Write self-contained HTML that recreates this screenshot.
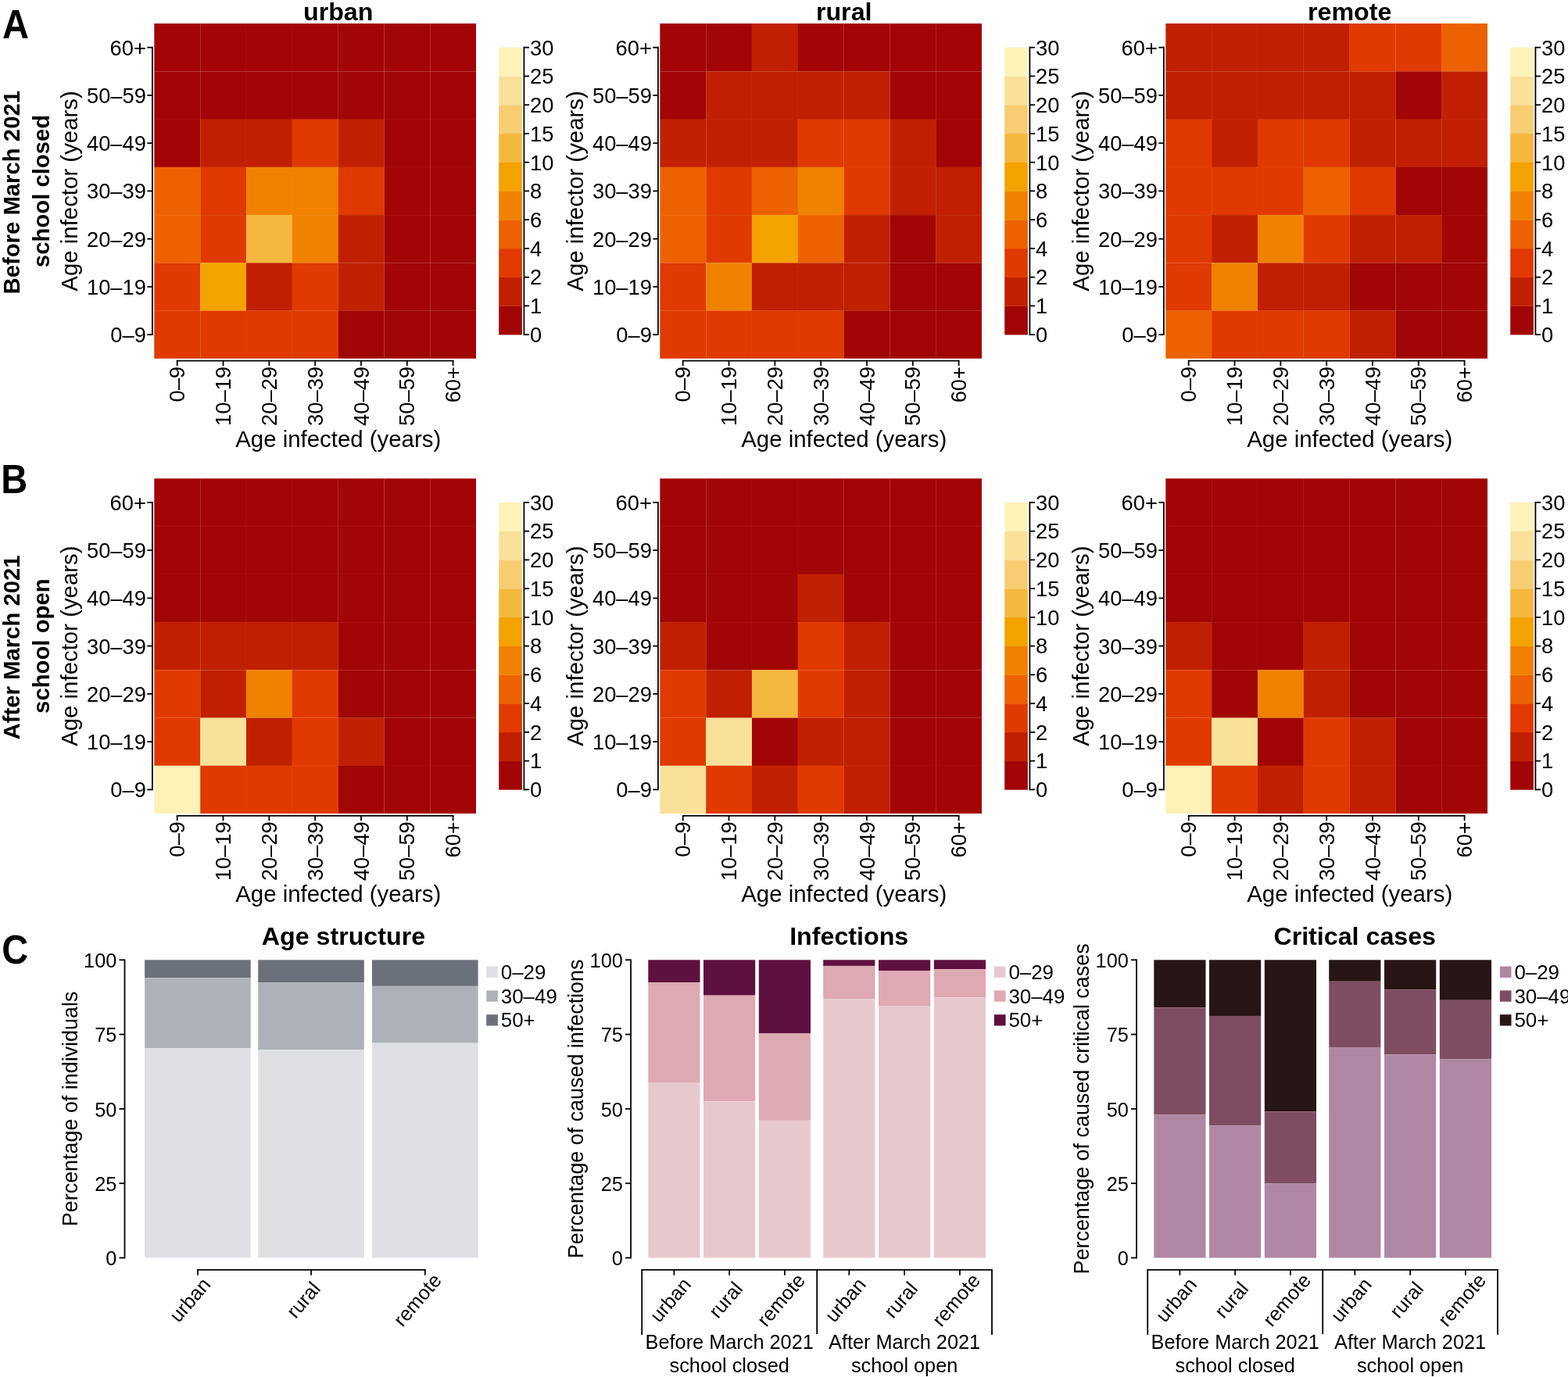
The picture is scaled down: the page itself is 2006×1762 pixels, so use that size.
<!DOCTYPE html><html><head><meta charset="utf-8"><title>Figure</title><style>html,body{margin:0;padding:0;background:#fff;}svg{display:block;}text{font-family:'Liberation Sans', Arial, Helvetica, sans-serif;fill:#000;}</style></head><body>
<svg width="2006" height="1762" viewBox="0 0 2006 1762">
<rect width="2006" height="1762" fill="#fff"/>
<rect x="197.3" y="30.1" width="59.21" height="61.64" fill="#A20505"/>
<rect x="256.11" y="30.1" width="59.21" height="61.64" fill="#A20505"/>
<rect x="314.93" y="30.1" width="59.21" height="61.64" fill="#A20505"/>
<rect x="373.74" y="30.1" width="59.21" height="61.64" fill="#A20505"/>
<rect x="432.56" y="30.1" width="59.21" height="61.64" fill="#A20505"/>
<rect x="491.37" y="30.1" width="59.21" height="61.64" fill="#A20505"/>
<rect x="550.19" y="30.1" width="58.81" height="61.64" fill="#A20505"/>
<rect x="197.3" y="91.34" width="59.21" height="61.64" fill="#A20505"/>
<rect x="256.11" y="91.34" width="59.21" height="61.64" fill="#A20505"/>
<rect x="314.93" y="91.34" width="59.21" height="61.64" fill="#A20505"/>
<rect x="373.74" y="91.34" width="59.21" height="61.64" fill="#A20505"/>
<rect x="432.56" y="91.34" width="59.21" height="61.64" fill="#A20505"/>
<rect x="491.37" y="91.34" width="59.21" height="61.64" fill="#A20505"/>
<rect x="550.19" y="91.34" width="58.81" height="61.64" fill="#A20505"/>
<rect x="197.3" y="152.59" width="59.21" height="61.64" fill="#A20505"/>
<rect x="256.11" y="152.59" width="59.21" height="61.64" fill="#C02000"/>
<rect x="314.93" y="152.59" width="59.21" height="61.64" fill="#C02000"/>
<rect x="373.74" y="152.59" width="59.21" height="61.64" fill="#E03A00"/>
<rect x="432.56" y="152.59" width="59.21" height="61.64" fill="#C02000"/>
<rect x="491.37" y="152.59" width="59.21" height="61.64" fill="#A20505"/>
<rect x="550.19" y="152.59" width="58.81" height="61.64" fill="#A20505"/>
<rect x="197.3" y="213.83" width="59.21" height="61.64" fill="#EC6200"/>
<rect x="256.11" y="213.83" width="59.21" height="61.64" fill="#E03A00"/>
<rect x="314.93" y="213.83" width="59.21" height="61.64" fill="#F08200"/>
<rect x="373.74" y="213.83" width="59.21" height="61.64" fill="#F08200"/>
<rect x="432.56" y="213.83" width="59.21" height="61.64" fill="#E03A00"/>
<rect x="491.37" y="213.83" width="59.21" height="61.64" fill="#A20505"/>
<rect x="550.19" y="213.83" width="58.81" height="61.64" fill="#A20505"/>
<rect x="197.3" y="275.07" width="59.21" height="61.64" fill="#EC6200"/>
<rect x="256.11" y="275.07" width="59.21" height="61.64" fill="#E03A00"/>
<rect x="314.93" y="275.07" width="59.21" height="61.64" fill="#F5B83E"/>
<rect x="373.74" y="275.07" width="59.21" height="61.64" fill="#F08200"/>
<rect x="432.56" y="275.07" width="59.21" height="61.64" fill="#C02000"/>
<rect x="491.37" y="275.07" width="59.21" height="61.64" fill="#A20505"/>
<rect x="550.19" y="275.07" width="58.81" height="61.64" fill="#A20505"/>
<rect x="197.3" y="336.31" width="59.21" height="61.64" fill="#E03A00"/>
<rect x="256.11" y="336.31" width="59.21" height="61.64" fill="#F4A200"/>
<rect x="314.93" y="336.31" width="59.21" height="61.64" fill="#C02000"/>
<rect x="373.74" y="336.31" width="59.21" height="61.64" fill="#E03A00"/>
<rect x="432.56" y="336.31" width="59.21" height="61.64" fill="#C02000"/>
<rect x="491.37" y="336.31" width="59.21" height="61.64" fill="#A20505"/>
<rect x="550.19" y="336.31" width="58.81" height="61.64" fill="#A20505"/>
<rect x="197.3" y="397.56" width="59.21" height="61.24" fill="#E03A00"/>
<rect x="256.11" y="397.56" width="59.21" height="61.24" fill="#E03A00"/>
<rect x="314.93" y="397.56" width="59.21" height="61.24" fill="#E03A00"/>
<rect x="373.74" y="397.56" width="59.21" height="61.24" fill="#E03A00"/>
<rect x="432.56" y="397.56" width="59.21" height="61.24" fill="#A20505"/>
<rect x="491.37" y="397.56" width="59.21" height="61.24" fill="#A20505"/>
<rect x="550.19" y="397.56" width="58.81" height="61.24" fill="#A20505"/>
<line x1="256.5" y1="30.1" x2="256.5" y2="458.8" stroke="#fff" stroke-opacity="0.12" stroke-width="1"/>
<line x1="314.5" y1="30.1" x2="314.5" y2="458.8" stroke="#fff" stroke-opacity="0.03" stroke-width="1"/>
<line x1="373.5" y1="30.1" x2="373.5" y2="458.8" stroke="#fff" stroke-opacity="0.03" stroke-width="1"/>
<line x1="432.5" y1="30.1" x2="432.5" y2="458.8" stroke="#fff" stroke-opacity="0.12" stroke-width="1"/>
<line x1="491.5" y1="30.1" x2="491.5" y2="458.8" stroke="#fff" stroke-opacity="0.12" stroke-width="1"/>
<line x1="550.5" y1="30.1" x2="550.5" y2="458.8" stroke="#fff" stroke-opacity="0.12" stroke-width="1"/>
<line x1="197.3" y1="91.5" x2="609" y2="91.5" stroke="#fff" stroke-opacity="0.12" stroke-width="1"/>
<line x1="197.3" y1="152.5" x2="609" y2="152.5" stroke="#fff" stroke-opacity="0.03" stroke-width="1"/>
<line x1="197.3" y1="213.5" x2="609" y2="213.5" stroke="#fff" stroke-opacity="0.03" stroke-width="1"/>
<line x1="197.3" y1="275.5" x2="609" y2="275.5" stroke="#fff" stroke-opacity="0.03" stroke-width="1"/>
<line x1="197.3" y1="336.5" x2="609" y2="336.5" stroke="#fff" stroke-opacity="0.12" stroke-width="1"/>
<line x1="197.3" y1="397.5" x2="609" y2="397.5" stroke="#fff" stroke-opacity="0.12" stroke-width="1"/>
<line x1="194.9" y1="428.18" x2="194.9" y2="60.72" stroke="#000" stroke-width="1.8" stroke-linecap="square"/>
<line x1="188.3" y1="428.18" x2="194.9" y2="428.18" stroke="#000" stroke-width="1.8"/>
<text transform="translate(186.9,438.18)" font-size="27.3" text-anchor="end">0–9</text>
<line x1="188.3" y1="366.94" x2="194.9" y2="366.94" stroke="#000" stroke-width="1.8"/>
<text transform="translate(186.9,376.94)" font-size="27.3" text-anchor="end">10–19</text>
<line x1="188.3" y1="305.69" x2="194.9" y2="305.69" stroke="#000" stroke-width="1.8"/>
<text transform="translate(186.9,315.69)" font-size="27.3" text-anchor="end">20–29</text>
<line x1="188.3" y1="244.45" x2="194.9" y2="244.45" stroke="#000" stroke-width="1.8"/>
<text transform="translate(186.9,254.45)" font-size="27.3" text-anchor="end">30–39</text>
<line x1="188.3" y1="183.21" x2="194.9" y2="183.21" stroke="#000" stroke-width="1.8"/>
<text transform="translate(186.9,193.21)" font-size="27.3" text-anchor="end">40–49</text>
<line x1="188.3" y1="121.96" x2="194.9" y2="121.96" stroke="#000" stroke-width="1.8"/>
<text transform="translate(186.9,131.96)" font-size="27.3" text-anchor="end">50–59</text>
<line x1="188.3" y1="60.72" x2="194.9" y2="60.72" stroke="#000" stroke-width="1.8"/>
<text transform="translate(186.9,70.72)" font-size="27.3" text-anchor="end">60+</text>
<line x1="226.71" y1="461.7" x2="579.59" y2="461.7" stroke="#000" stroke-width="1.8" stroke-linecap="square"/>
<line x1="226.71" y1="461.7" x2="226.71" y2="468.1" stroke="#000" stroke-width="1.8"/>
<text transform="translate(236.37,469) rotate(-90)" font-size="27.3" text-anchor="end">0–9</text>
<line x1="285.52" y1="461.7" x2="285.52" y2="468.1" stroke="#000" stroke-width="1.8"/>
<text transform="translate(295.19,469) rotate(-90)" font-size="27.3" text-anchor="end">10–19</text>
<line x1="344.34" y1="461.7" x2="344.34" y2="468.1" stroke="#000" stroke-width="1.8"/>
<text transform="translate(354,469) rotate(-90)" font-size="27.3" text-anchor="end">20–29</text>
<line x1="403.15" y1="461.7" x2="403.15" y2="468.1" stroke="#000" stroke-width="1.8"/>
<text transform="translate(412.81,469) rotate(-90)" font-size="27.3" text-anchor="end">30–39</text>
<line x1="461.96" y1="461.7" x2="461.96" y2="468.1" stroke="#000" stroke-width="1.8"/>
<text transform="translate(471.63,469) rotate(-90)" font-size="27.3" text-anchor="end">40–49</text>
<line x1="520.78" y1="461.7" x2="520.78" y2="468.1" stroke="#000" stroke-width="1.8"/>
<text transform="translate(530.44,469) rotate(-90)" font-size="27.3" text-anchor="end">50–59</text>
<line x1="579.59" y1="461.7" x2="579.59" y2="468.1" stroke="#000" stroke-width="1.8"/>
<text transform="translate(589.26,469) rotate(-90)" font-size="27.3" text-anchor="end">60+</text>
<text transform="translate(432.7,571.6)" font-size="29.4" text-anchor="middle">Age infected (years)</text>
<text transform="translate(98.8,244.45) rotate(-90)" font-size="29.4" text-anchor="middle">Age infector (years)</text>
<rect x="638.2" y="391.43" width="29.7" height="37.05" fill="#A20505"/>
<rect x="638.2" y="354.69" width="29.7" height="37.05" fill="#C02000"/>
<rect x="638.2" y="317.94" width="29.7" height="37.05" fill="#E03A00"/>
<rect x="638.2" y="281.2" width="29.7" height="37.05" fill="#EC6200"/>
<rect x="638.2" y="244.45" width="29.7" height="37.05" fill="#F08200"/>
<rect x="638.2" y="207.7" width="29.7" height="37.05" fill="#F4A200"/>
<rect x="638.2" y="170.96" width="29.7" height="37.05" fill="#F5B83E"/>
<rect x="638.2" y="134.21" width="29.7" height="37.05" fill="#F6CD71"/>
<rect x="638.2" y="97.47" width="29.7" height="37.05" fill="#F9E19A"/>
<rect x="638.2" y="60.72" width="29.7" height="37.05" fill="#FDF2B8"/>
<line x1="670.4" y1="60.72" x2="670.4" y2="428.18" stroke="#000" stroke-width="1.8" stroke-linecap="square"/>
<line x1="670.4" y1="428.18" x2="677.1" y2="428.18" stroke="#000" stroke-width="1.8"/>
<text transform="translate(678,437.98)" font-size="27.3" text-anchor="start">0</text>
<line x1="670.4" y1="391.43" x2="677.1" y2="391.43" stroke="#000" stroke-width="1.8"/>
<text transform="translate(678,401.23)" font-size="27.3" text-anchor="start">1</text>
<line x1="670.4" y1="354.69" x2="677.1" y2="354.69" stroke="#000" stroke-width="1.8"/>
<text transform="translate(678,364.49)" font-size="27.3" text-anchor="start">2</text>
<line x1="670.4" y1="317.94" x2="677.1" y2="317.94" stroke="#000" stroke-width="1.8"/>
<text transform="translate(678,327.74)" font-size="27.3" text-anchor="start">4</text>
<line x1="670.4" y1="281.2" x2="677.1" y2="281.2" stroke="#000" stroke-width="1.8"/>
<text transform="translate(678,291)" font-size="27.3" text-anchor="start">6</text>
<line x1="670.4" y1="244.45" x2="677.1" y2="244.45" stroke="#000" stroke-width="1.8"/>
<text transform="translate(678,254.25)" font-size="27.3" text-anchor="start">8</text>
<line x1="670.4" y1="207.7" x2="677.1" y2="207.7" stroke="#000" stroke-width="1.8"/>
<text transform="translate(678,217.5)" font-size="27.3" text-anchor="start">10</text>
<line x1="670.4" y1="170.96" x2="677.1" y2="170.96" stroke="#000" stroke-width="1.8"/>
<text transform="translate(678,180.76)" font-size="27.3" text-anchor="start">15</text>
<line x1="670.4" y1="134.21" x2="677.1" y2="134.21" stroke="#000" stroke-width="1.8"/>
<text transform="translate(678,144.01)" font-size="27.3" text-anchor="start">20</text>
<line x1="670.4" y1="97.47" x2="677.1" y2="97.47" stroke="#000" stroke-width="1.8"/>
<text transform="translate(678,107.27)" font-size="27.3" text-anchor="start">25</text>
<line x1="670.4" y1="60.72" x2="677.1" y2="60.72" stroke="#000" stroke-width="1.8"/>
<text transform="translate(678,70.52)" font-size="27.3" text-anchor="start">30</text>
<text transform="translate(432.7,25.9) scale(1,0.96)" font-size="32.2" text-anchor="middle" font-weight="bold">urban</text>
<rect x="844.3" y="30.1" width="59.21" height="61.64" fill="#A20505"/>
<rect x="903.11" y="30.1" width="59.21" height="61.64" fill="#A20505"/>
<rect x="961.93" y="30.1" width="59.21" height="61.64" fill="#C02000"/>
<rect x="1020.74" y="30.1" width="59.21" height="61.64" fill="#A20505"/>
<rect x="1079.56" y="30.1" width="59.21" height="61.64" fill="#A20505"/>
<rect x="1138.37" y="30.1" width="59.21" height="61.64" fill="#A20505"/>
<rect x="1197.19" y="30.1" width="58.81" height="61.64" fill="#A20505"/>
<rect x="844.3" y="91.34" width="59.21" height="61.64" fill="#A20505"/>
<rect x="903.11" y="91.34" width="59.21" height="61.64" fill="#C02000"/>
<rect x="961.93" y="91.34" width="59.21" height="61.64" fill="#C02000"/>
<rect x="1020.74" y="91.34" width="59.21" height="61.64" fill="#C02000"/>
<rect x="1079.56" y="91.34" width="59.21" height="61.64" fill="#C02000"/>
<rect x="1138.37" y="91.34" width="59.21" height="61.64" fill="#A20505"/>
<rect x="1197.19" y="91.34" width="58.81" height="61.64" fill="#A20505"/>
<rect x="844.3" y="152.59" width="59.21" height="61.64" fill="#C02000"/>
<rect x="903.11" y="152.59" width="59.21" height="61.64" fill="#C02000"/>
<rect x="961.93" y="152.59" width="59.21" height="61.64" fill="#C02000"/>
<rect x="1020.74" y="152.59" width="59.21" height="61.64" fill="#E03A00"/>
<rect x="1079.56" y="152.59" width="59.21" height="61.64" fill="#E03A00"/>
<rect x="1138.37" y="152.59" width="59.21" height="61.64" fill="#C02000"/>
<rect x="1197.19" y="152.59" width="58.81" height="61.64" fill="#A20505"/>
<rect x="844.3" y="213.83" width="59.21" height="61.64" fill="#EC6200"/>
<rect x="903.11" y="213.83" width="59.21" height="61.64" fill="#E03A00"/>
<rect x="961.93" y="213.83" width="59.21" height="61.64" fill="#EC6200"/>
<rect x="1020.74" y="213.83" width="59.21" height="61.64" fill="#F08200"/>
<rect x="1079.56" y="213.83" width="59.21" height="61.64" fill="#E03A00"/>
<rect x="1138.37" y="213.83" width="59.21" height="61.64" fill="#C02000"/>
<rect x="1197.19" y="213.83" width="58.81" height="61.64" fill="#C02000"/>
<rect x="844.3" y="275.07" width="59.21" height="61.64" fill="#EC6200"/>
<rect x="903.11" y="275.07" width="59.21" height="61.64" fill="#E03A00"/>
<rect x="961.93" y="275.07" width="59.21" height="61.64" fill="#F4A200"/>
<rect x="1020.74" y="275.07" width="59.21" height="61.64" fill="#EC6200"/>
<rect x="1079.56" y="275.07" width="59.21" height="61.64" fill="#C02000"/>
<rect x="1138.37" y="275.07" width="59.21" height="61.64" fill="#A20505"/>
<rect x="1197.19" y="275.07" width="58.81" height="61.64" fill="#C02000"/>
<rect x="844.3" y="336.31" width="59.21" height="61.64" fill="#E03A00"/>
<rect x="903.11" y="336.31" width="59.21" height="61.64" fill="#F08200"/>
<rect x="961.93" y="336.31" width="59.21" height="61.64" fill="#C02000"/>
<rect x="1020.74" y="336.31" width="59.21" height="61.64" fill="#C02000"/>
<rect x="1079.56" y="336.31" width="59.21" height="61.64" fill="#C02000"/>
<rect x="1138.37" y="336.31" width="59.21" height="61.64" fill="#A20505"/>
<rect x="1197.19" y="336.31" width="58.81" height="61.64" fill="#A20505"/>
<rect x="844.3" y="397.56" width="59.21" height="61.24" fill="#E03A00"/>
<rect x="903.11" y="397.56" width="59.21" height="61.24" fill="#E03A00"/>
<rect x="961.93" y="397.56" width="59.21" height="61.24" fill="#E03A00"/>
<rect x="1020.74" y="397.56" width="59.21" height="61.24" fill="#E03A00"/>
<rect x="1079.56" y="397.56" width="59.21" height="61.24" fill="#A20505"/>
<rect x="1138.37" y="397.56" width="59.21" height="61.24" fill="#A20505"/>
<rect x="1197.19" y="397.56" width="58.81" height="61.24" fill="#A20505"/>
<line x1="903.5" y1="30.1" x2="903.5" y2="458.8" stroke="#fff" stroke-opacity="0.12" stroke-width="1"/>
<line x1="961.5" y1="30.1" x2="961.5" y2="458.8" stroke="#fff" stroke-opacity="0.03" stroke-width="1"/>
<line x1="1020.5" y1="30.1" x2="1020.5" y2="458.8" stroke="#fff" stroke-opacity="0.03" stroke-width="1"/>
<line x1="1079.5" y1="30.1" x2="1079.5" y2="458.8" stroke="#fff" stroke-opacity="0.12" stroke-width="1"/>
<line x1="1138.5" y1="30.1" x2="1138.5" y2="458.8" stroke="#fff" stroke-opacity="0.12" stroke-width="1"/>
<line x1="1197.5" y1="30.1" x2="1197.5" y2="458.8" stroke="#fff" stroke-opacity="0.03" stroke-width="1"/>
<line x1="844.3" y1="91.5" x2="1256" y2="91.5" stroke="#fff" stroke-opacity="0.12" stroke-width="1"/>
<line x1="844.3" y1="152.5" x2="1256" y2="152.5" stroke="#fff" stroke-opacity="0.03" stroke-width="1"/>
<line x1="844.3" y1="213.5" x2="1256" y2="213.5" stroke="#fff" stroke-opacity="0.03" stroke-width="1"/>
<line x1="844.3" y1="275.5" x2="1256" y2="275.5" stroke="#fff" stroke-opacity="0.03" stroke-width="1"/>
<line x1="844.3" y1="336.5" x2="1256" y2="336.5" stroke="#fff" stroke-opacity="0.12" stroke-width="1"/>
<line x1="844.3" y1="397.5" x2="1256" y2="397.5" stroke="#fff" stroke-opacity="0.12" stroke-width="1"/>
<line x1="841.9" y1="428.18" x2="841.9" y2="60.72" stroke="#000" stroke-width="1.8" stroke-linecap="square"/>
<line x1="835.3" y1="428.18" x2="841.9" y2="428.18" stroke="#000" stroke-width="1.8"/>
<text transform="translate(833.9,438.18)" font-size="27.3" text-anchor="end">0–9</text>
<line x1="835.3" y1="366.94" x2="841.9" y2="366.94" stroke="#000" stroke-width="1.8"/>
<text transform="translate(833.9,376.94)" font-size="27.3" text-anchor="end">10–19</text>
<line x1="835.3" y1="305.69" x2="841.9" y2="305.69" stroke="#000" stroke-width="1.8"/>
<text transform="translate(833.9,315.69)" font-size="27.3" text-anchor="end">20–29</text>
<line x1="835.3" y1="244.45" x2="841.9" y2="244.45" stroke="#000" stroke-width="1.8"/>
<text transform="translate(833.9,254.45)" font-size="27.3" text-anchor="end">30–39</text>
<line x1="835.3" y1="183.21" x2="841.9" y2="183.21" stroke="#000" stroke-width="1.8"/>
<text transform="translate(833.9,193.21)" font-size="27.3" text-anchor="end">40–49</text>
<line x1="835.3" y1="121.96" x2="841.9" y2="121.96" stroke="#000" stroke-width="1.8"/>
<text transform="translate(833.9,131.96)" font-size="27.3" text-anchor="end">50–59</text>
<line x1="835.3" y1="60.72" x2="841.9" y2="60.72" stroke="#000" stroke-width="1.8"/>
<text transform="translate(833.9,70.72)" font-size="27.3" text-anchor="end">60+</text>
<line x1="873.71" y1="461.7" x2="1226.59" y2="461.7" stroke="#000" stroke-width="1.8" stroke-linecap="square"/>
<line x1="873.71" y1="461.7" x2="873.71" y2="468.1" stroke="#000" stroke-width="1.8"/>
<text transform="translate(883.37,469) rotate(-90)" font-size="27.3" text-anchor="end">0–9</text>
<line x1="932.52" y1="461.7" x2="932.52" y2="468.1" stroke="#000" stroke-width="1.8"/>
<text transform="translate(942.19,469) rotate(-90)" font-size="27.3" text-anchor="end">10–19</text>
<line x1="991.34" y1="461.7" x2="991.34" y2="468.1" stroke="#000" stroke-width="1.8"/>
<text transform="translate(1001,469) rotate(-90)" font-size="27.3" text-anchor="end">20–29</text>
<line x1="1050.15" y1="461.7" x2="1050.15" y2="468.1" stroke="#000" stroke-width="1.8"/>
<text transform="translate(1059.81,469) rotate(-90)" font-size="27.3" text-anchor="end">30–39</text>
<line x1="1108.96" y1="461.7" x2="1108.96" y2="468.1" stroke="#000" stroke-width="1.8"/>
<text transform="translate(1118.63,469) rotate(-90)" font-size="27.3" text-anchor="end">40–49</text>
<line x1="1167.78" y1="461.7" x2="1167.78" y2="468.1" stroke="#000" stroke-width="1.8"/>
<text transform="translate(1177.44,469) rotate(-90)" font-size="27.3" text-anchor="end">50–59</text>
<line x1="1226.59" y1="461.7" x2="1226.59" y2="468.1" stroke="#000" stroke-width="1.8"/>
<text transform="translate(1236.26,469) rotate(-90)" font-size="27.3" text-anchor="end">60+</text>
<text transform="translate(1079.7,571.6)" font-size="29.4" text-anchor="middle">Age infected (years)</text>
<text transform="translate(745.8,244.45) rotate(-90)" font-size="29.4" text-anchor="middle">Age infector (years)</text>
<rect x="1285.2" y="391.43" width="29.7" height="37.05" fill="#A20505"/>
<rect x="1285.2" y="354.69" width="29.7" height="37.05" fill="#C02000"/>
<rect x="1285.2" y="317.94" width="29.7" height="37.05" fill="#E03A00"/>
<rect x="1285.2" y="281.2" width="29.7" height="37.05" fill="#EC6200"/>
<rect x="1285.2" y="244.45" width="29.7" height="37.05" fill="#F08200"/>
<rect x="1285.2" y="207.7" width="29.7" height="37.05" fill="#F4A200"/>
<rect x="1285.2" y="170.96" width="29.7" height="37.05" fill="#F5B83E"/>
<rect x="1285.2" y="134.21" width="29.7" height="37.05" fill="#F6CD71"/>
<rect x="1285.2" y="97.47" width="29.7" height="37.05" fill="#F9E19A"/>
<rect x="1285.2" y="60.72" width="29.7" height="37.05" fill="#FDF2B8"/>
<line x1="1317.4" y1="60.72" x2="1317.4" y2="428.18" stroke="#000" stroke-width="1.8" stroke-linecap="square"/>
<line x1="1317.4" y1="428.18" x2="1324.1" y2="428.18" stroke="#000" stroke-width="1.8"/>
<text transform="translate(1325,437.98)" font-size="27.3" text-anchor="start">0</text>
<line x1="1317.4" y1="391.43" x2="1324.1" y2="391.43" stroke="#000" stroke-width="1.8"/>
<text transform="translate(1325,401.23)" font-size="27.3" text-anchor="start">1</text>
<line x1="1317.4" y1="354.69" x2="1324.1" y2="354.69" stroke="#000" stroke-width="1.8"/>
<text transform="translate(1325,364.49)" font-size="27.3" text-anchor="start">2</text>
<line x1="1317.4" y1="317.94" x2="1324.1" y2="317.94" stroke="#000" stroke-width="1.8"/>
<text transform="translate(1325,327.74)" font-size="27.3" text-anchor="start">4</text>
<line x1="1317.4" y1="281.2" x2="1324.1" y2="281.2" stroke="#000" stroke-width="1.8"/>
<text transform="translate(1325,291)" font-size="27.3" text-anchor="start">6</text>
<line x1="1317.4" y1="244.45" x2="1324.1" y2="244.45" stroke="#000" stroke-width="1.8"/>
<text transform="translate(1325,254.25)" font-size="27.3" text-anchor="start">8</text>
<line x1="1317.4" y1="207.7" x2="1324.1" y2="207.7" stroke="#000" stroke-width="1.8"/>
<text transform="translate(1325,217.5)" font-size="27.3" text-anchor="start">10</text>
<line x1="1317.4" y1="170.96" x2="1324.1" y2="170.96" stroke="#000" stroke-width="1.8"/>
<text transform="translate(1325,180.76)" font-size="27.3" text-anchor="start">15</text>
<line x1="1317.4" y1="134.21" x2="1324.1" y2="134.21" stroke="#000" stroke-width="1.8"/>
<text transform="translate(1325,144.01)" font-size="27.3" text-anchor="start">20</text>
<line x1="1317.4" y1="97.47" x2="1324.1" y2="97.47" stroke="#000" stroke-width="1.8"/>
<text transform="translate(1325,107.27)" font-size="27.3" text-anchor="start">25</text>
<line x1="1317.4" y1="60.72" x2="1324.1" y2="60.72" stroke="#000" stroke-width="1.8"/>
<text transform="translate(1325,70.52)" font-size="27.3" text-anchor="start">30</text>
<text transform="translate(1079.7,25.9) scale(1,0.96)" font-size="32.2" text-anchor="middle" font-weight="bold">rural</text>
<rect x="1491.3" y="30.1" width="59.21" height="61.64" fill="#C02000"/>
<rect x="1550.11" y="30.1" width="59.21" height="61.64" fill="#C02000"/>
<rect x="1608.93" y="30.1" width="59.21" height="61.64" fill="#C02000"/>
<rect x="1667.74" y="30.1" width="59.21" height="61.64" fill="#C02000"/>
<rect x="1726.56" y="30.1" width="59.21" height="61.64" fill="#E03A00"/>
<rect x="1785.37" y="30.1" width="59.21" height="61.64" fill="#E03A00"/>
<rect x="1844.19" y="30.1" width="58.81" height="61.64" fill="#EC6200"/>
<rect x="1491.3" y="91.34" width="59.21" height="61.64" fill="#C02000"/>
<rect x="1550.11" y="91.34" width="59.21" height="61.64" fill="#C02000"/>
<rect x="1608.93" y="91.34" width="59.21" height="61.64" fill="#C02000"/>
<rect x="1667.74" y="91.34" width="59.21" height="61.64" fill="#C02000"/>
<rect x="1726.56" y="91.34" width="59.21" height="61.64" fill="#C02000"/>
<rect x="1785.37" y="91.34" width="59.21" height="61.64" fill="#A20505"/>
<rect x="1844.19" y="91.34" width="58.81" height="61.64" fill="#C02000"/>
<rect x="1491.3" y="152.59" width="59.21" height="61.64" fill="#E03A00"/>
<rect x="1550.11" y="152.59" width="59.21" height="61.64" fill="#C02000"/>
<rect x="1608.93" y="152.59" width="59.21" height="61.64" fill="#E03A00"/>
<rect x="1667.74" y="152.59" width="59.21" height="61.64" fill="#E03A00"/>
<rect x="1726.56" y="152.59" width="59.21" height="61.64" fill="#C02000"/>
<rect x="1785.37" y="152.59" width="59.21" height="61.64" fill="#C02000"/>
<rect x="1844.19" y="152.59" width="58.81" height="61.64" fill="#C02000"/>
<rect x="1491.3" y="213.83" width="59.21" height="61.64" fill="#E03A00"/>
<rect x="1550.11" y="213.83" width="59.21" height="61.64" fill="#E03A00"/>
<rect x="1608.93" y="213.83" width="59.21" height="61.64" fill="#E03A00"/>
<rect x="1667.74" y="213.83" width="59.21" height="61.64" fill="#EC6200"/>
<rect x="1726.56" y="213.83" width="59.21" height="61.64" fill="#E03A00"/>
<rect x="1785.37" y="213.83" width="59.21" height="61.64" fill="#A20505"/>
<rect x="1844.19" y="213.83" width="58.81" height="61.64" fill="#A20505"/>
<rect x="1491.3" y="275.07" width="59.21" height="61.64" fill="#E03A00"/>
<rect x="1550.11" y="275.07" width="59.21" height="61.64" fill="#C02000"/>
<rect x="1608.93" y="275.07" width="59.21" height="61.64" fill="#F08200"/>
<rect x="1667.74" y="275.07" width="59.21" height="61.64" fill="#E03A00"/>
<rect x="1726.56" y="275.07" width="59.21" height="61.64" fill="#C02000"/>
<rect x="1785.37" y="275.07" width="59.21" height="61.64" fill="#C02000"/>
<rect x="1844.19" y="275.07" width="58.81" height="61.64" fill="#A20505"/>
<rect x="1491.3" y="336.31" width="59.21" height="61.64" fill="#E03A00"/>
<rect x="1550.11" y="336.31" width="59.21" height="61.64" fill="#F08200"/>
<rect x="1608.93" y="336.31" width="59.21" height="61.64" fill="#C02000"/>
<rect x="1667.74" y="336.31" width="59.21" height="61.64" fill="#C02000"/>
<rect x="1726.56" y="336.31" width="59.21" height="61.64" fill="#A20505"/>
<rect x="1785.37" y="336.31" width="59.21" height="61.64" fill="#A20505"/>
<rect x="1844.19" y="336.31" width="58.81" height="61.64" fill="#A20505"/>
<rect x="1491.3" y="397.56" width="59.21" height="61.24" fill="#EC6200"/>
<rect x="1550.11" y="397.56" width="59.21" height="61.24" fill="#E03A00"/>
<rect x="1608.93" y="397.56" width="59.21" height="61.24" fill="#E03A00"/>
<rect x="1667.74" y="397.56" width="59.21" height="61.24" fill="#E03A00"/>
<rect x="1726.56" y="397.56" width="59.21" height="61.24" fill="#C02000"/>
<rect x="1785.37" y="397.56" width="59.21" height="61.24" fill="#A20505"/>
<rect x="1844.19" y="397.56" width="58.81" height="61.24" fill="#A20505"/>
<line x1="1550.5" y1="30.1" x2="1550.5" y2="458.8" stroke="#fff" stroke-opacity="0.03" stroke-width="1"/>
<line x1="1608.5" y1="30.1" x2="1608.5" y2="458.8" stroke="#fff" stroke-opacity="0.03" stroke-width="1"/>
<line x1="1667.5" y1="30.1" x2="1667.5" y2="458.8" stroke="#fff" stroke-opacity="0.12" stroke-width="1"/>
<line x1="1726.5" y1="30.1" x2="1726.5" y2="458.8" stroke="#fff" stroke-opacity="0.12" stroke-width="1"/>
<line x1="1785.5" y1="30.1" x2="1785.5" y2="458.8" stroke="#fff" stroke-opacity="0.12" stroke-width="1"/>
<line x1="1844.5" y1="30.1" x2="1844.5" y2="458.8" stroke="#fff" stroke-opacity="0.03" stroke-width="1"/>
<line x1="1491.3" y1="91.5" x2="1903" y2="91.5" stroke="#fff" stroke-opacity="0.12" stroke-width="1"/>
<line x1="1491.3" y1="152.5" x2="1903" y2="152.5" stroke="#fff" stroke-opacity="0.03" stroke-width="1"/>
<line x1="1491.3" y1="213.5" x2="1903" y2="213.5" stroke="#fff" stroke-opacity="0.03" stroke-width="1"/>
<line x1="1491.3" y1="275.5" x2="1903" y2="275.5" stroke="#fff" stroke-opacity="0.03" stroke-width="1"/>
<line x1="1491.3" y1="336.5" x2="1903" y2="336.5" stroke="#fff" stroke-opacity="0.12" stroke-width="1"/>
<line x1="1491.3" y1="397.5" x2="1903" y2="397.5" stroke="#fff" stroke-opacity="0.12" stroke-width="1"/>
<line x1="1488.9" y1="428.18" x2="1488.9" y2="60.72" stroke="#000" stroke-width="1.8" stroke-linecap="square"/>
<line x1="1482.3" y1="428.18" x2="1488.9" y2="428.18" stroke="#000" stroke-width="1.8"/>
<text transform="translate(1480.9,438.18)" font-size="27.3" text-anchor="end">0–9</text>
<line x1="1482.3" y1="366.94" x2="1488.9" y2="366.94" stroke="#000" stroke-width="1.8"/>
<text transform="translate(1480.9,376.94)" font-size="27.3" text-anchor="end">10–19</text>
<line x1="1482.3" y1="305.69" x2="1488.9" y2="305.69" stroke="#000" stroke-width="1.8"/>
<text transform="translate(1480.9,315.69)" font-size="27.3" text-anchor="end">20–29</text>
<line x1="1482.3" y1="244.45" x2="1488.9" y2="244.45" stroke="#000" stroke-width="1.8"/>
<text transform="translate(1480.9,254.45)" font-size="27.3" text-anchor="end">30–39</text>
<line x1="1482.3" y1="183.21" x2="1488.9" y2="183.21" stroke="#000" stroke-width="1.8"/>
<text transform="translate(1480.9,193.21)" font-size="27.3" text-anchor="end">40–49</text>
<line x1="1482.3" y1="121.96" x2="1488.9" y2="121.96" stroke="#000" stroke-width="1.8"/>
<text transform="translate(1480.9,131.96)" font-size="27.3" text-anchor="end">50–59</text>
<line x1="1482.3" y1="60.72" x2="1488.9" y2="60.72" stroke="#000" stroke-width="1.8"/>
<text transform="translate(1480.9,70.72)" font-size="27.3" text-anchor="end">60+</text>
<line x1="1520.71" y1="461.7" x2="1873.59" y2="461.7" stroke="#000" stroke-width="1.8" stroke-linecap="square"/>
<line x1="1520.71" y1="461.7" x2="1520.71" y2="468.1" stroke="#000" stroke-width="1.8"/>
<text transform="translate(1530.37,469) rotate(-90)" font-size="27.3" text-anchor="end">0–9</text>
<line x1="1579.52" y1="461.7" x2="1579.52" y2="468.1" stroke="#000" stroke-width="1.8"/>
<text transform="translate(1589.19,469) rotate(-90)" font-size="27.3" text-anchor="end">10–19</text>
<line x1="1638.34" y1="461.7" x2="1638.34" y2="468.1" stroke="#000" stroke-width="1.8"/>
<text transform="translate(1648,469) rotate(-90)" font-size="27.3" text-anchor="end">20–29</text>
<line x1="1697.15" y1="461.7" x2="1697.15" y2="468.1" stroke="#000" stroke-width="1.8"/>
<text transform="translate(1706.81,469) rotate(-90)" font-size="27.3" text-anchor="end">30–39</text>
<line x1="1755.96" y1="461.7" x2="1755.96" y2="468.1" stroke="#000" stroke-width="1.8"/>
<text transform="translate(1765.63,469) rotate(-90)" font-size="27.3" text-anchor="end">40–49</text>
<line x1="1814.78" y1="461.7" x2="1814.78" y2="468.1" stroke="#000" stroke-width="1.8"/>
<text transform="translate(1824.44,469) rotate(-90)" font-size="27.3" text-anchor="end">50–59</text>
<line x1="1873.59" y1="461.7" x2="1873.59" y2="468.1" stroke="#000" stroke-width="1.8"/>
<text transform="translate(1883.26,469) rotate(-90)" font-size="27.3" text-anchor="end">60+</text>
<text transform="translate(1726.7,571.6)" font-size="29.4" text-anchor="middle">Age infected (years)</text>
<text transform="translate(1392.8,244.45) rotate(-90)" font-size="29.4" text-anchor="middle">Age infector (years)</text>
<rect x="1932.2" y="391.43" width="29.7" height="37.05" fill="#A20505"/>
<rect x="1932.2" y="354.69" width="29.7" height="37.05" fill="#C02000"/>
<rect x="1932.2" y="317.94" width="29.7" height="37.05" fill="#E03A00"/>
<rect x="1932.2" y="281.2" width="29.7" height="37.05" fill="#EC6200"/>
<rect x="1932.2" y="244.45" width="29.7" height="37.05" fill="#F08200"/>
<rect x="1932.2" y="207.7" width="29.7" height="37.05" fill="#F4A200"/>
<rect x="1932.2" y="170.96" width="29.7" height="37.05" fill="#F5B83E"/>
<rect x="1932.2" y="134.21" width="29.7" height="37.05" fill="#F6CD71"/>
<rect x="1932.2" y="97.47" width="29.7" height="37.05" fill="#F9E19A"/>
<rect x="1932.2" y="60.72" width="29.7" height="37.05" fill="#FDF2B8"/>
<line x1="1964.4" y1="60.72" x2="1964.4" y2="428.18" stroke="#000" stroke-width="1.8" stroke-linecap="square"/>
<line x1="1964.4" y1="428.18" x2="1971.1" y2="428.18" stroke="#000" stroke-width="1.8"/>
<text transform="translate(1972,437.98)" font-size="27.3" text-anchor="start">0</text>
<line x1="1964.4" y1="391.43" x2="1971.1" y2="391.43" stroke="#000" stroke-width="1.8"/>
<text transform="translate(1972,401.23)" font-size="27.3" text-anchor="start">1</text>
<line x1="1964.4" y1="354.69" x2="1971.1" y2="354.69" stroke="#000" stroke-width="1.8"/>
<text transform="translate(1972,364.49)" font-size="27.3" text-anchor="start">2</text>
<line x1="1964.4" y1="317.94" x2="1971.1" y2="317.94" stroke="#000" stroke-width="1.8"/>
<text transform="translate(1972,327.74)" font-size="27.3" text-anchor="start">4</text>
<line x1="1964.4" y1="281.2" x2="1971.1" y2="281.2" stroke="#000" stroke-width="1.8"/>
<text transform="translate(1972,291)" font-size="27.3" text-anchor="start">6</text>
<line x1="1964.4" y1="244.45" x2="1971.1" y2="244.45" stroke="#000" stroke-width="1.8"/>
<text transform="translate(1972,254.25)" font-size="27.3" text-anchor="start">8</text>
<line x1="1964.4" y1="207.7" x2="1971.1" y2="207.7" stroke="#000" stroke-width="1.8"/>
<text transform="translate(1972,217.5)" font-size="27.3" text-anchor="start">10</text>
<line x1="1964.4" y1="170.96" x2="1971.1" y2="170.96" stroke="#000" stroke-width="1.8"/>
<text transform="translate(1972,180.76)" font-size="27.3" text-anchor="start">15</text>
<line x1="1964.4" y1="134.21" x2="1971.1" y2="134.21" stroke="#000" stroke-width="1.8"/>
<text transform="translate(1972,144.01)" font-size="27.3" text-anchor="start">20</text>
<line x1="1964.4" y1="97.47" x2="1971.1" y2="97.47" stroke="#000" stroke-width="1.8"/>
<text transform="translate(1972,107.27)" font-size="27.3" text-anchor="start">25</text>
<line x1="1964.4" y1="60.72" x2="1971.1" y2="60.72" stroke="#000" stroke-width="1.8"/>
<text transform="translate(1972,70.52)" font-size="27.3" text-anchor="start">30</text>
<text transform="translate(1726.7,25.9) scale(1,0.96)" font-size="32.2" text-anchor="middle" font-weight="bold">remote</text>
<rect x="197.3" y="612.3" width="59.21" height="61.64" fill="#A20505"/>
<rect x="256.11" y="612.3" width="59.21" height="61.64" fill="#A20505"/>
<rect x="314.93" y="612.3" width="59.21" height="61.64" fill="#A20505"/>
<rect x="373.74" y="612.3" width="59.21" height="61.64" fill="#A20505"/>
<rect x="432.56" y="612.3" width="59.21" height="61.64" fill="#A20505"/>
<rect x="491.37" y="612.3" width="59.21" height="61.64" fill="#A20505"/>
<rect x="550.19" y="612.3" width="58.81" height="61.64" fill="#A20505"/>
<rect x="197.3" y="673.54" width="59.21" height="61.64" fill="#A20505"/>
<rect x="256.11" y="673.54" width="59.21" height="61.64" fill="#A20505"/>
<rect x="314.93" y="673.54" width="59.21" height="61.64" fill="#A20505"/>
<rect x="373.74" y="673.54" width="59.21" height="61.64" fill="#A20505"/>
<rect x="432.56" y="673.54" width="59.21" height="61.64" fill="#A20505"/>
<rect x="491.37" y="673.54" width="59.21" height="61.64" fill="#A20505"/>
<rect x="550.19" y="673.54" width="58.81" height="61.64" fill="#A20505"/>
<rect x="197.3" y="734.79" width="59.21" height="61.64" fill="#A20505"/>
<rect x="256.11" y="734.79" width="59.21" height="61.64" fill="#A20505"/>
<rect x="314.93" y="734.79" width="59.21" height="61.64" fill="#A20505"/>
<rect x="373.74" y="734.79" width="59.21" height="61.64" fill="#A20505"/>
<rect x="432.56" y="734.79" width="59.21" height="61.64" fill="#A20505"/>
<rect x="491.37" y="734.79" width="59.21" height="61.64" fill="#A20505"/>
<rect x="550.19" y="734.79" width="58.81" height="61.64" fill="#A20505"/>
<rect x="197.3" y="796.03" width="59.21" height="61.64" fill="#C02000"/>
<rect x="256.11" y="796.03" width="59.21" height="61.64" fill="#C02000"/>
<rect x="314.93" y="796.03" width="59.21" height="61.64" fill="#C02000"/>
<rect x="373.74" y="796.03" width="59.21" height="61.64" fill="#C02000"/>
<rect x="432.56" y="796.03" width="59.21" height="61.64" fill="#A20505"/>
<rect x="491.37" y="796.03" width="59.21" height="61.64" fill="#A20505"/>
<rect x="550.19" y="796.03" width="58.81" height="61.64" fill="#A20505"/>
<rect x="197.3" y="857.27" width="59.21" height="61.64" fill="#E03A00"/>
<rect x="256.11" y="857.27" width="59.21" height="61.64" fill="#C02000"/>
<rect x="314.93" y="857.27" width="59.21" height="61.64" fill="#F08200"/>
<rect x="373.74" y="857.27" width="59.21" height="61.64" fill="#E03A00"/>
<rect x="432.56" y="857.27" width="59.21" height="61.64" fill="#A20505"/>
<rect x="491.37" y="857.27" width="59.21" height="61.64" fill="#A20505"/>
<rect x="550.19" y="857.27" width="58.81" height="61.64" fill="#A20505"/>
<rect x="197.3" y="918.51" width="59.21" height="61.64" fill="#E03A00"/>
<rect x="256.11" y="918.51" width="59.21" height="61.64" fill="#F9E19A"/>
<rect x="314.93" y="918.51" width="59.21" height="61.64" fill="#C02000"/>
<rect x="373.74" y="918.51" width="59.21" height="61.64" fill="#E03A00"/>
<rect x="432.56" y="918.51" width="59.21" height="61.64" fill="#C02000"/>
<rect x="491.37" y="918.51" width="59.21" height="61.64" fill="#A20505"/>
<rect x="550.19" y="918.51" width="58.81" height="61.64" fill="#A20505"/>
<rect x="197.3" y="979.76" width="59.21" height="61.24" fill="#FDF2B8"/>
<rect x="256.11" y="979.76" width="59.21" height="61.24" fill="#E03A00"/>
<rect x="314.93" y="979.76" width="59.21" height="61.24" fill="#E03A00"/>
<rect x="373.74" y="979.76" width="59.21" height="61.24" fill="#E03A00"/>
<rect x="432.56" y="979.76" width="59.21" height="61.24" fill="#A20505"/>
<rect x="491.37" y="979.76" width="59.21" height="61.24" fill="#A20505"/>
<rect x="550.19" y="979.76" width="58.81" height="61.24" fill="#A20505"/>
<line x1="256.5" y1="612.3" x2="256.5" y2="1041" stroke="#fff" stroke-opacity="0.12" stroke-width="1"/>
<line x1="314.5" y1="612.3" x2="314.5" y2="1041" stroke="#fff" stroke-opacity="0.03" stroke-width="1"/>
<line x1="373.5" y1="612.3" x2="373.5" y2="1041" stroke="#fff" stroke-opacity="0.03" stroke-width="1"/>
<line x1="432.5" y1="612.3" x2="432.5" y2="1041" stroke="#fff" stroke-opacity="0.12" stroke-width="1"/>
<line x1="491.5" y1="612.3" x2="491.5" y2="1041" stroke="#fff" stroke-opacity="0.12" stroke-width="1"/>
<line x1="550.5" y1="612.3" x2="550.5" y2="1041" stroke="#fff" stroke-opacity="0.12" stroke-width="1"/>
<line x1="197.3" y1="673.5" x2="609" y2="673.5" stroke="#fff" stroke-opacity="0.03" stroke-width="1"/>
<line x1="197.3" y1="734.5" x2="609" y2="734.5" stroke="#fff" stroke-opacity="0.03" stroke-width="1"/>
<line x1="197.3" y1="796.5" x2="609" y2="796.5" stroke="#fff" stroke-opacity="0.03" stroke-width="1"/>
<line x1="197.3" y1="857.5" x2="609" y2="857.5" stroke="#fff" stroke-opacity="0.12" stroke-width="1"/>
<line x1="197.3" y1="918.5" x2="609" y2="918.5" stroke="#fff" stroke-opacity="0.12" stroke-width="1"/>
<line x1="197.3" y1="979.5" x2="609" y2="979.5" stroke="#fff" stroke-opacity="0.03" stroke-width="1"/>
<line x1="194.9" y1="1010.38" x2="194.9" y2="642.92" stroke="#000" stroke-width="1.8" stroke-linecap="square"/>
<line x1="188.3" y1="1010.38" x2="194.9" y2="1010.38" stroke="#000" stroke-width="1.8"/>
<text transform="translate(186.9,1020.38)" font-size="27.3" text-anchor="end">0–9</text>
<line x1="188.3" y1="949.14" x2="194.9" y2="949.14" stroke="#000" stroke-width="1.8"/>
<text transform="translate(186.9,959.14)" font-size="27.3" text-anchor="end">10–19</text>
<line x1="188.3" y1="887.89" x2="194.9" y2="887.89" stroke="#000" stroke-width="1.8"/>
<text transform="translate(186.9,897.89)" font-size="27.3" text-anchor="end">20–29</text>
<line x1="188.3" y1="826.65" x2="194.9" y2="826.65" stroke="#000" stroke-width="1.8"/>
<text transform="translate(186.9,836.65)" font-size="27.3" text-anchor="end">30–39</text>
<line x1="188.3" y1="765.41" x2="194.9" y2="765.41" stroke="#000" stroke-width="1.8"/>
<text transform="translate(186.9,775.41)" font-size="27.3" text-anchor="end">40–49</text>
<line x1="188.3" y1="704.16" x2="194.9" y2="704.16" stroke="#000" stroke-width="1.8"/>
<text transform="translate(186.9,714.16)" font-size="27.3" text-anchor="end">50–59</text>
<line x1="188.3" y1="642.92" x2="194.9" y2="642.92" stroke="#000" stroke-width="1.8"/>
<text transform="translate(186.9,652.92)" font-size="27.3" text-anchor="end">60+</text>
<line x1="226.71" y1="1043.9" x2="579.59" y2="1043.9" stroke="#000" stroke-width="1.8" stroke-linecap="square"/>
<line x1="226.71" y1="1043.9" x2="226.71" y2="1050.3" stroke="#000" stroke-width="1.8"/>
<text transform="translate(236.37,1051.2) rotate(-90)" font-size="27.3" text-anchor="end">0–9</text>
<line x1="285.52" y1="1043.9" x2="285.52" y2="1050.3" stroke="#000" stroke-width="1.8"/>
<text transform="translate(295.19,1051.2) rotate(-90)" font-size="27.3" text-anchor="end">10–19</text>
<line x1="344.34" y1="1043.9" x2="344.34" y2="1050.3" stroke="#000" stroke-width="1.8"/>
<text transform="translate(354,1051.2) rotate(-90)" font-size="27.3" text-anchor="end">20–29</text>
<line x1="403.15" y1="1043.9" x2="403.15" y2="1050.3" stroke="#000" stroke-width="1.8"/>
<text transform="translate(412.81,1051.2) rotate(-90)" font-size="27.3" text-anchor="end">30–39</text>
<line x1="461.96" y1="1043.9" x2="461.96" y2="1050.3" stroke="#000" stroke-width="1.8"/>
<text transform="translate(471.63,1051.2) rotate(-90)" font-size="27.3" text-anchor="end">40–49</text>
<line x1="520.78" y1="1043.9" x2="520.78" y2="1050.3" stroke="#000" stroke-width="1.8"/>
<text transform="translate(530.44,1051.2) rotate(-90)" font-size="27.3" text-anchor="end">50–59</text>
<line x1="579.59" y1="1043.9" x2="579.59" y2="1050.3" stroke="#000" stroke-width="1.8"/>
<text transform="translate(589.26,1051.2) rotate(-90)" font-size="27.3" text-anchor="end">60+</text>
<text transform="translate(432.7,1153.8)" font-size="29.4" text-anchor="middle">Age infected (years)</text>
<text transform="translate(98.8,826.65) rotate(-90)" font-size="29.4" text-anchor="middle">Age infector (years)</text>
<rect x="638.2" y="973.63" width="29.7" height="37.05" fill="#A20505"/>
<rect x="638.2" y="936.89" width="29.7" height="37.05" fill="#C02000"/>
<rect x="638.2" y="900.14" width="29.7" height="37.05" fill="#E03A00"/>
<rect x="638.2" y="863.4" width="29.7" height="37.05" fill="#EC6200"/>
<rect x="638.2" y="826.65" width="29.7" height="37.05" fill="#F08200"/>
<rect x="638.2" y="789.9" width="29.7" height="37.05" fill="#F4A200"/>
<rect x="638.2" y="753.16" width="29.7" height="37.05" fill="#F5B83E"/>
<rect x="638.2" y="716.41" width="29.7" height="37.05" fill="#F6CD71"/>
<rect x="638.2" y="679.67" width="29.7" height="37.05" fill="#F9E19A"/>
<rect x="638.2" y="642.92" width="29.7" height="37.05" fill="#FDF2B8"/>
<line x1="670.4" y1="642.92" x2="670.4" y2="1010.38" stroke="#000" stroke-width="1.8" stroke-linecap="square"/>
<line x1="670.4" y1="1010.38" x2="677.1" y2="1010.38" stroke="#000" stroke-width="1.8"/>
<text transform="translate(678,1020.18)" font-size="27.3" text-anchor="start">0</text>
<line x1="670.4" y1="973.63" x2="677.1" y2="973.63" stroke="#000" stroke-width="1.8"/>
<text transform="translate(678,983.43)" font-size="27.3" text-anchor="start">1</text>
<line x1="670.4" y1="936.89" x2="677.1" y2="936.89" stroke="#000" stroke-width="1.8"/>
<text transform="translate(678,946.69)" font-size="27.3" text-anchor="start">2</text>
<line x1="670.4" y1="900.14" x2="677.1" y2="900.14" stroke="#000" stroke-width="1.8"/>
<text transform="translate(678,909.94)" font-size="27.3" text-anchor="start">4</text>
<line x1="670.4" y1="863.4" x2="677.1" y2="863.4" stroke="#000" stroke-width="1.8"/>
<text transform="translate(678,873.2)" font-size="27.3" text-anchor="start">6</text>
<line x1="670.4" y1="826.65" x2="677.1" y2="826.65" stroke="#000" stroke-width="1.8"/>
<text transform="translate(678,836.45)" font-size="27.3" text-anchor="start">8</text>
<line x1="670.4" y1="789.9" x2="677.1" y2="789.9" stroke="#000" stroke-width="1.8"/>
<text transform="translate(678,799.7)" font-size="27.3" text-anchor="start">10</text>
<line x1="670.4" y1="753.16" x2="677.1" y2="753.16" stroke="#000" stroke-width="1.8"/>
<text transform="translate(678,762.96)" font-size="27.3" text-anchor="start">15</text>
<line x1="670.4" y1="716.41" x2="677.1" y2="716.41" stroke="#000" stroke-width="1.8"/>
<text transform="translate(678,726.21)" font-size="27.3" text-anchor="start">20</text>
<line x1="670.4" y1="679.67" x2="677.1" y2="679.67" stroke="#000" stroke-width="1.8"/>
<text transform="translate(678,689.47)" font-size="27.3" text-anchor="start">25</text>
<line x1="670.4" y1="642.92" x2="677.1" y2="642.92" stroke="#000" stroke-width="1.8"/>
<text transform="translate(678,652.72)" font-size="27.3" text-anchor="start">30</text>
<rect x="844.3" y="612.3" width="59.21" height="61.64" fill="#A20505"/>
<rect x="903.11" y="612.3" width="59.21" height="61.64" fill="#A20505"/>
<rect x="961.93" y="612.3" width="59.21" height="61.64" fill="#A20505"/>
<rect x="1020.74" y="612.3" width="59.21" height="61.64" fill="#A20505"/>
<rect x="1079.56" y="612.3" width="59.21" height="61.64" fill="#A20505"/>
<rect x="1138.37" y="612.3" width="59.21" height="61.64" fill="#A20505"/>
<rect x="1197.19" y="612.3" width="58.81" height="61.64" fill="#A20505"/>
<rect x="844.3" y="673.54" width="59.21" height="61.64" fill="#A20505"/>
<rect x="903.11" y="673.54" width="59.21" height="61.64" fill="#A20505"/>
<rect x="961.93" y="673.54" width="59.21" height="61.64" fill="#A20505"/>
<rect x="1020.74" y="673.54" width="59.21" height="61.64" fill="#A20505"/>
<rect x="1079.56" y="673.54" width="59.21" height="61.64" fill="#A20505"/>
<rect x="1138.37" y="673.54" width="59.21" height="61.64" fill="#A20505"/>
<rect x="1197.19" y="673.54" width="58.81" height="61.64" fill="#A20505"/>
<rect x="844.3" y="734.79" width="59.21" height="61.64" fill="#A20505"/>
<rect x="903.11" y="734.79" width="59.21" height="61.64" fill="#A20505"/>
<rect x="961.93" y="734.79" width="59.21" height="61.64" fill="#A20505"/>
<rect x="1020.74" y="734.79" width="59.21" height="61.64" fill="#C02000"/>
<rect x="1079.56" y="734.79" width="59.21" height="61.64" fill="#A20505"/>
<rect x="1138.37" y="734.79" width="59.21" height="61.64" fill="#A20505"/>
<rect x="1197.19" y="734.79" width="58.81" height="61.64" fill="#A20505"/>
<rect x="844.3" y="796.03" width="59.21" height="61.64" fill="#C02000"/>
<rect x="903.11" y="796.03" width="59.21" height="61.64" fill="#A20505"/>
<rect x="961.93" y="796.03" width="59.21" height="61.64" fill="#A20505"/>
<rect x="1020.74" y="796.03" width="59.21" height="61.64" fill="#E03A00"/>
<rect x="1079.56" y="796.03" width="59.21" height="61.64" fill="#C02000"/>
<rect x="1138.37" y="796.03" width="59.21" height="61.64" fill="#A20505"/>
<rect x="1197.19" y="796.03" width="58.81" height="61.64" fill="#A20505"/>
<rect x="844.3" y="857.27" width="59.21" height="61.64" fill="#E03A00"/>
<rect x="903.11" y="857.27" width="59.21" height="61.64" fill="#C02000"/>
<rect x="961.93" y="857.27" width="59.21" height="61.64" fill="#F5B83E"/>
<rect x="1020.74" y="857.27" width="59.21" height="61.64" fill="#E03A00"/>
<rect x="1079.56" y="857.27" width="59.21" height="61.64" fill="#C02000"/>
<rect x="1138.37" y="857.27" width="59.21" height="61.64" fill="#A20505"/>
<rect x="1197.19" y="857.27" width="58.81" height="61.64" fill="#A20505"/>
<rect x="844.3" y="918.51" width="59.21" height="61.64" fill="#E03A00"/>
<rect x="903.11" y="918.51" width="59.21" height="61.64" fill="#F9E19A"/>
<rect x="961.93" y="918.51" width="59.21" height="61.64" fill="#A20505"/>
<rect x="1020.74" y="918.51" width="59.21" height="61.64" fill="#C02000"/>
<rect x="1079.56" y="918.51" width="59.21" height="61.64" fill="#C02000"/>
<rect x="1138.37" y="918.51" width="59.21" height="61.64" fill="#A20505"/>
<rect x="1197.19" y="918.51" width="58.81" height="61.64" fill="#A20505"/>
<rect x="844.3" y="979.76" width="59.21" height="61.24" fill="#F9E19A"/>
<rect x="903.11" y="979.76" width="59.21" height="61.24" fill="#E03A00"/>
<rect x="961.93" y="979.76" width="59.21" height="61.24" fill="#C02000"/>
<rect x="1020.74" y="979.76" width="59.21" height="61.24" fill="#E03A00"/>
<rect x="1079.56" y="979.76" width="59.21" height="61.24" fill="#C02000"/>
<rect x="1138.37" y="979.76" width="59.21" height="61.24" fill="#A20505"/>
<rect x="1197.19" y="979.76" width="58.81" height="61.24" fill="#A20505"/>
<line x1="903.5" y1="612.3" x2="903.5" y2="1041" stroke="#fff" stroke-opacity="0.12" stroke-width="1"/>
<line x1="961.5" y1="612.3" x2="961.5" y2="1041" stroke="#fff" stroke-opacity="0.03" stroke-width="1"/>
<line x1="1020.5" y1="612.3" x2="1020.5" y2="1041" stroke="#fff" stroke-opacity="0.03" stroke-width="1"/>
<line x1="1079.5" y1="612.3" x2="1079.5" y2="1041" stroke="#fff" stroke-opacity="0.12" stroke-width="1"/>
<line x1="1138.5" y1="612.3" x2="1138.5" y2="1041" stroke="#fff" stroke-opacity="0.12" stroke-width="1"/>
<line x1="1197.5" y1="612.3" x2="1197.5" y2="1041" stroke="#fff" stroke-opacity="0.03" stroke-width="1"/>
<line x1="844.3" y1="673.5" x2="1256" y2="673.5" stroke="#fff" stroke-opacity="0.03" stroke-width="1"/>
<line x1="844.3" y1="734.5" x2="1256" y2="734.5" stroke="#fff" stroke-opacity="0.03" stroke-width="1"/>
<line x1="844.3" y1="796.5" x2="1256" y2="796.5" stroke="#fff" stroke-opacity="0.03" stroke-width="1"/>
<line x1="844.3" y1="857.5" x2="1256" y2="857.5" stroke="#fff" stroke-opacity="0.12" stroke-width="1"/>
<line x1="844.3" y1="918.5" x2="1256" y2="918.5" stroke="#fff" stroke-opacity="0.12" stroke-width="1"/>
<line x1="844.3" y1="979.5" x2="1256" y2="979.5" stroke="#fff" stroke-opacity="0.03" stroke-width="1"/>
<line x1="841.9" y1="1010.38" x2="841.9" y2="642.92" stroke="#000" stroke-width="1.8" stroke-linecap="square"/>
<line x1="835.3" y1="1010.38" x2="841.9" y2="1010.38" stroke="#000" stroke-width="1.8"/>
<text transform="translate(833.9,1020.38)" font-size="27.3" text-anchor="end">0–9</text>
<line x1="835.3" y1="949.14" x2="841.9" y2="949.14" stroke="#000" stroke-width="1.8"/>
<text transform="translate(833.9,959.14)" font-size="27.3" text-anchor="end">10–19</text>
<line x1="835.3" y1="887.89" x2="841.9" y2="887.89" stroke="#000" stroke-width="1.8"/>
<text transform="translate(833.9,897.89)" font-size="27.3" text-anchor="end">20–29</text>
<line x1="835.3" y1="826.65" x2="841.9" y2="826.65" stroke="#000" stroke-width="1.8"/>
<text transform="translate(833.9,836.65)" font-size="27.3" text-anchor="end">30–39</text>
<line x1="835.3" y1="765.41" x2="841.9" y2="765.41" stroke="#000" stroke-width="1.8"/>
<text transform="translate(833.9,775.41)" font-size="27.3" text-anchor="end">40–49</text>
<line x1="835.3" y1="704.16" x2="841.9" y2="704.16" stroke="#000" stroke-width="1.8"/>
<text transform="translate(833.9,714.16)" font-size="27.3" text-anchor="end">50–59</text>
<line x1="835.3" y1="642.92" x2="841.9" y2="642.92" stroke="#000" stroke-width="1.8"/>
<text transform="translate(833.9,652.92)" font-size="27.3" text-anchor="end">60+</text>
<line x1="873.71" y1="1043.9" x2="1226.59" y2="1043.9" stroke="#000" stroke-width="1.8" stroke-linecap="square"/>
<line x1="873.71" y1="1043.9" x2="873.71" y2="1050.3" stroke="#000" stroke-width="1.8"/>
<text transform="translate(883.37,1051.2) rotate(-90)" font-size="27.3" text-anchor="end">0–9</text>
<line x1="932.52" y1="1043.9" x2="932.52" y2="1050.3" stroke="#000" stroke-width="1.8"/>
<text transform="translate(942.19,1051.2) rotate(-90)" font-size="27.3" text-anchor="end">10–19</text>
<line x1="991.34" y1="1043.9" x2="991.34" y2="1050.3" stroke="#000" stroke-width="1.8"/>
<text transform="translate(1001,1051.2) rotate(-90)" font-size="27.3" text-anchor="end">20–29</text>
<line x1="1050.15" y1="1043.9" x2="1050.15" y2="1050.3" stroke="#000" stroke-width="1.8"/>
<text transform="translate(1059.81,1051.2) rotate(-90)" font-size="27.3" text-anchor="end">30–39</text>
<line x1="1108.96" y1="1043.9" x2="1108.96" y2="1050.3" stroke="#000" stroke-width="1.8"/>
<text transform="translate(1118.63,1051.2) rotate(-90)" font-size="27.3" text-anchor="end">40–49</text>
<line x1="1167.78" y1="1043.9" x2="1167.78" y2="1050.3" stroke="#000" stroke-width="1.8"/>
<text transform="translate(1177.44,1051.2) rotate(-90)" font-size="27.3" text-anchor="end">50–59</text>
<line x1="1226.59" y1="1043.9" x2="1226.59" y2="1050.3" stroke="#000" stroke-width="1.8"/>
<text transform="translate(1236.26,1051.2) rotate(-90)" font-size="27.3" text-anchor="end">60+</text>
<text transform="translate(1079.7,1153.8)" font-size="29.4" text-anchor="middle">Age infected (years)</text>
<text transform="translate(745.8,826.65) rotate(-90)" font-size="29.4" text-anchor="middle">Age infector (years)</text>
<rect x="1285.2" y="973.63" width="29.7" height="37.05" fill="#A20505"/>
<rect x="1285.2" y="936.89" width="29.7" height="37.05" fill="#C02000"/>
<rect x="1285.2" y="900.14" width="29.7" height="37.05" fill="#E03A00"/>
<rect x="1285.2" y="863.4" width="29.7" height="37.05" fill="#EC6200"/>
<rect x="1285.2" y="826.65" width="29.7" height="37.05" fill="#F08200"/>
<rect x="1285.2" y="789.9" width="29.7" height="37.05" fill="#F4A200"/>
<rect x="1285.2" y="753.16" width="29.7" height="37.05" fill="#F5B83E"/>
<rect x="1285.2" y="716.41" width="29.7" height="37.05" fill="#F6CD71"/>
<rect x="1285.2" y="679.67" width="29.7" height="37.05" fill="#F9E19A"/>
<rect x="1285.2" y="642.92" width="29.7" height="37.05" fill="#FDF2B8"/>
<line x1="1317.4" y1="642.92" x2="1317.4" y2="1010.38" stroke="#000" stroke-width="1.8" stroke-linecap="square"/>
<line x1="1317.4" y1="1010.38" x2="1324.1" y2="1010.38" stroke="#000" stroke-width="1.8"/>
<text transform="translate(1325,1020.18)" font-size="27.3" text-anchor="start">0</text>
<line x1="1317.4" y1="973.63" x2="1324.1" y2="973.63" stroke="#000" stroke-width="1.8"/>
<text transform="translate(1325,983.43)" font-size="27.3" text-anchor="start">1</text>
<line x1="1317.4" y1="936.89" x2="1324.1" y2="936.89" stroke="#000" stroke-width="1.8"/>
<text transform="translate(1325,946.69)" font-size="27.3" text-anchor="start">2</text>
<line x1="1317.4" y1="900.14" x2="1324.1" y2="900.14" stroke="#000" stroke-width="1.8"/>
<text transform="translate(1325,909.94)" font-size="27.3" text-anchor="start">4</text>
<line x1="1317.4" y1="863.4" x2="1324.1" y2="863.4" stroke="#000" stroke-width="1.8"/>
<text transform="translate(1325,873.2)" font-size="27.3" text-anchor="start">6</text>
<line x1="1317.4" y1="826.65" x2="1324.1" y2="826.65" stroke="#000" stroke-width="1.8"/>
<text transform="translate(1325,836.45)" font-size="27.3" text-anchor="start">8</text>
<line x1="1317.4" y1="789.9" x2="1324.1" y2="789.9" stroke="#000" stroke-width="1.8"/>
<text transform="translate(1325,799.7)" font-size="27.3" text-anchor="start">10</text>
<line x1="1317.4" y1="753.16" x2="1324.1" y2="753.16" stroke="#000" stroke-width="1.8"/>
<text transform="translate(1325,762.96)" font-size="27.3" text-anchor="start">15</text>
<line x1="1317.4" y1="716.41" x2="1324.1" y2="716.41" stroke="#000" stroke-width="1.8"/>
<text transform="translate(1325,726.21)" font-size="27.3" text-anchor="start">20</text>
<line x1="1317.4" y1="679.67" x2="1324.1" y2="679.67" stroke="#000" stroke-width="1.8"/>
<text transform="translate(1325,689.47)" font-size="27.3" text-anchor="start">25</text>
<line x1="1317.4" y1="642.92" x2="1324.1" y2="642.92" stroke="#000" stroke-width="1.8"/>
<text transform="translate(1325,652.72)" font-size="27.3" text-anchor="start">30</text>
<rect x="1491.3" y="612.3" width="59.21" height="61.64" fill="#A20505"/>
<rect x="1550.11" y="612.3" width="59.21" height="61.64" fill="#A20505"/>
<rect x="1608.93" y="612.3" width="59.21" height="61.64" fill="#A20505"/>
<rect x="1667.74" y="612.3" width="59.21" height="61.64" fill="#A20505"/>
<rect x="1726.56" y="612.3" width="59.21" height="61.64" fill="#A20505"/>
<rect x="1785.37" y="612.3" width="59.21" height="61.64" fill="#A20505"/>
<rect x="1844.19" y="612.3" width="58.81" height="61.64" fill="#A20505"/>
<rect x="1491.3" y="673.54" width="59.21" height="61.64" fill="#A20505"/>
<rect x="1550.11" y="673.54" width="59.21" height="61.64" fill="#A20505"/>
<rect x="1608.93" y="673.54" width="59.21" height="61.64" fill="#A20505"/>
<rect x="1667.74" y="673.54" width="59.21" height="61.64" fill="#A20505"/>
<rect x="1726.56" y="673.54" width="59.21" height="61.64" fill="#A20505"/>
<rect x="1785.37" y="673.54" width="59.21" height="61.64" fill="#A20505"/>
<rect x="1844.19" y="673.54" width="58.81" height="61.64" fill="#A20505"/>
<rect x="1491.3" y="734.79" width="59.21" height="61.64" fill="#A20505"/>
<rect x="1550.11" y="734.79" width="59.21" height="61.64" fill="#A20505"/>
<rect x="1608.93" y="734.79" width="59.21" height="61.64" fill="#A20505"/>
<rect x="1667.74" y="734.79" width="59.21" height="61.64" fill="#A20505"/>
<rect x="1726.56" y="734.79" width="59.21" height="61.64" fill="#A20505"/>
<rect x="1785.37" y="734.79" width="59.21" height="61.64" fill="#A20505"/>
<rect x="1844.19" y="734.79" width="58.81" height="61.64" fill="#A20505"/>
<rect x="1491.3" y="796.03" width="59.21" height="61.64" fill="#C02000"/>
<rect x="1550.11" y="796.03" width="59.21" height="61.64" fill="#A20505"/>
<rect x="1608.93" y="796.03" width="59.21" height="61.64" fill="#A20505"/>
<rect x="1667.74" y="796.03" width="59.21" height="61.64" fill="#C02000"/>
<rect x="1726.56" y="796.03" width="59.21" height="61.64" fill="#A20505"/>
<rect x="1785.37" y="796.03" width="59.21" height="61.64" fill="#A20505"/>
<rect x="1844.19" y="796.03" width="58.81" height="61.64" fill="#A20505"/>
<rect x="1491.3" y="857.27" width="59.21" height="61.64" fill="#E03A00"/>
<rect x="1550.11" y="857.27" width="59.21" height="61.64" fill="#A20505"/>
<rect x="1608.93" y="857.27" width="59.21" height="61.64" fill="#F08200"/>
<rect x="1667.74" y="857.27" width="59.21" height="61.64" fill="#C02000"/>
<rect x="1726.56" y="857.27" width="59.21" height="61.64" fill="#A20505"/>
<rect x="1785.37" y="857.27" width="59.21" height="61.64" fill="#A20505"/>
<rect x="1844.19" y="857.27" width="58.81" height="61.64" fill="#A20505"/>
<rect x="1491.3" y="918.51" width="59.21" height="61.64" fill="#E03A00"/>
<rect x="1550.11" y="918.51" width="59.21" height="61.64" fill="#F9E19A"/>
<rect x="1608.93" y="918.51" width="59.21" height="61.64" fill="#A20505"/>
<rect x="1667.74" y="918.51" width="59.21" height="61.64" fill="#E03A00"/>
<rect x="1726.56" y="918.51" width="59.21" height="61.64" fill="#C02000"/>
<rect x="1785.37" y="918.51" width="59.21" height="61.64" fill="#A20505"/>
<rect x="1844.19" y="918.51" width="58.81" height="61.64" fill="#A20505"/>
<rect x="1491.3" y="979.76" width="59.21" height="61.24" fill="#FDF2B8"/>
<rect x="1550.11" y="979.76" width="59.21" height="61.24" fill="#E03A00"/>
<rect x="1608.93" y="979.76" width="59.21" height="61.24" fill="#C02000"/>
<rect x="1667.74" y="979.76" width="59.21" height="61.24" fill="#E03A00"/>
<rect x="1726.56" y="979.76" width="59.21" height="61.24" fill="#C02000"/>
<rect x="1785.37" y="979.76" width="59.21" height="61.24" fill="#A20505"/>
<rect x="1844.19" y="979.76" width="58.81" height="61.24" fill="#A20505"/>
<line x1="1550.5" y1="612.3" x2="1550.5" y2="1041" stroke="#fff" stroke-opacity="0.03" stroke-width="1"/>
<line x1="1608.5" y1="612.3" x2="1608.5" y2="1041" stroke="#fff" stroke-opacity="0.03" stroke-width="1"/>
<line x1="1667.5" y1="612.3" x2="1667.5" y2="1041" stroke="#fff" stroke-opacity="0.12" stroke-width="1"/>
<line x1="1726.5" y1="612.3" x2="1726.5" y2="1041" stroke="#fff" stroke-opacity="0.12" stroke-width="1"/>
<line x1="1785.5" y1="612.3" x2="1785.5" y2="1041" stroke="#fff" stroke-opacity="0.12" stroke-width="1"/>
<line x1="1844.5" y1="612.3" x2="1844.5" y2="1041" stroke="#fff" stroke-opacity="0.03" stroke-width="1"/>
<line x1="1491.3" y1="673.5" x2="1903" y2="673.5" stroke="#fff" stroke-opacity="0.03" stroke-width="1"/>
<line x1="1491.3" y1="734.5" x2="1903" y2="734.5" stroke="#fff" stroke-opacity="0.03" stroke-width="1"/>
<line x1="1491.3" y1="796.5" x2="1903" y2="796.5" stroke="#fff" stroke-opacity="0.03" stroke-width="1"/>
<line x1="1491.3" y1="857.5" x2="1903" y2="857.5" stroke="#fff" stroke-opacity="0.12" stroke-width="1"/>
<line x1="1491.3" y1="918.5" x2="1903" y2="918.5" stroke="#fff" stroke-opacity="0.12" stroke-width="1"/>
<line x1="1491.3" y1="979.5" x2="1903" y2="979.5" stroke="#fff" stroke-opacity="0.03" stroke-width="1"/>
<line x1="1488.9" y1="1010.38" x2="1488.9" y2="642.92" stroke="#000" stroke-width="1.8" stroke-linecap="square"/>
<line x1="1482.3" y1="1010.38" x2="1488.9" y2="1010.38" stroke="#000" stroke-width="1.8"/>
<text transform="translate(1480.9,1020.38)" font-size="27.3" text-anchor="end">0–9</text>
<line x1="1482.3" y1="949.14" x2="1488.9" y2="949.14" stroke="#000" stroke-width="1.8"/>
<text transform="translate(1480.9,959.14)" font-size="27.3" text-anchor="end">10–19</text>
<line x1="1482.3" y1="887.89" x2="1488.9" y2="887.89" stroke="#000" stroke-width="1.8"/>
<text transform="translate(1480.9,897.89)" font-size="27.3" text-anchor="end">20–29</text>
<line x1="1482.3" y1="826.65" x2="1488.9" y2="826.65" stroke="#000" stroke-width="1.8"/>
<text transform="translate(1480.9,836.65)" font-size="27.3" text-anchor="end">30–39</text>
<line x1="1482.3" y1="765.41" x2="1488.9" y2="765.41" stroke="#000" stroke-width="1.8"/>
<text transform="translate(1480.9,775.41)" font-size="27.3" text-anchor="end">40–49</text>
<line x1="1482.3" y1="704.16" x2="1488.9" y2="704.16" stroke="#000" stroke-width="1.8"/>
<text transform="translate(1480.9,714.16)" font-size="27.3" text-anchor="end">50–59</text>
<line x1="1482.3" y1="642.92" x2="1488.9" y2="642.92" stroke="#000" stroke-width="1.8"/>
<text transform="translate(1480.9,652.92)" font-size="27.3" text-anchor="end">60+</text>
<line x1="1520.71" y1="1043.9" x2="1873.59" y2="1043.9" stroke="#000" stroke-width="1.8" stroke-linecap="square"/>
<line x1="1520.71" y1="1043.9" x2="1520.71" y2="1050.3" stroke="#000" stroke-width="1.8"/>
<text transform="translate(1530.37,1051.2) rotate(-90)" font-size="27.3" text-anchor="end">0–9</text>
<line x1="1579.52" y1="1043.9" x2="1579.52" y2="1050.3" stroke="#000" stroke-width="1.8"/>
<text transform="translate(1589.19,1051.2) rotate(-90)" font-size="27.3" text-anchor="end">10–19</text>
<line x1="1638.34" y1="1043.9" x2="1638.34" y2="1050.3" stroke="#000" stroke-width="1.8"/>
<text transform="translate(1648,1051.2) rotate(-90)" font-size="27.3" text-anchor="end">20–29</text>
<line x1="1697.15" y1="1043.9" x2="1697.15" y2="1050.3" stroke="#000" stroke-width="1.8"/>
<text transform="translate(1706.81,1051.2) rotate(-90)" font-size="27.3" text-anchor="end">30–39</text>
<line x1="1755.96" y1="1043.9" x2="1755.96" y2="1050.3" stroke="#000" stroke-width="1.8"/>
<text transform="translate(1765.63,1051.2) rotate(-90)" font-size="27.3" text-anchor="end">40–49</text>
<line x1="1814.78" y1="1043.9" x2="1814.78" y2="1050.3" stroke="#000" stroke-width="1.8"/>
<text transform="translate(1824.44,1051.2) rotate(-90)" font-size="27.3" text-anchor="end">50–59</text>
<line x1="1873.59" y1="1043.9" x2="1873.59" y2="1050.3" stroke="#000" stroke-width="1.8"/>
<text transform="translate(1883.26,1051.2) rotate(-90)" font-size="27.3" text-anchor="end">60+</text>
<text transform="translate(1726.7,1153.8)" font-size="29.4" text-anchor="middle">Age infected (years)</text>
<text transform="translate(1392.8,826.65) rotate(-90)" font-size="29.4" text-anchor="middle">Age infector (years)</text>
<rect x="1932.2" y="973.63" width="29.7" height="37.05" fill="#A20505"/>
<rect x="1932.2" y="936.89" width="29.7" height="37.05" fill="#C02000"/>
<rect x="1932.2" y="900.14" width="29.7" height="37.05" fill="#E03A00"/>
<rect x="1932.2" y="863.4" width="29.7" height="37.05" fill="#EC6200"/>
<rect x="1932.2" y="826.65" width="29.7" height="37.05" fill="#F08200"/>
<rect x="1932.2" y="789.9" width="29.7" height="37.05" fill="#F4A200"/>
<rect x="1932.2" y="753.16" width="29.7" height="37.05" fill="#F5B83E"/>
<rect x="1932.2" y="716.41" width="29.7" height="37.05" fill="#F6CD71"/>
<rect x="1932.2" y="679.67" width="29.7" height="37.05" fill="#F9E19A"/>
<rect x="1932.2" y="642.92" width="29.7" height="37.05" fill="#FDF2B8"/>
<line x1="1964.4" y1="642.92" x2="1964.4" y2="1010.38" stroke="#000" stroke-width="1.8" stroke-linecap="square"/>
<line x1="1964.4" y1="1010.38" x2="1971.1" y2="1010.38" stroke="#000" stroke-width="1.8"/>
<text transform="translate(1972,1020.18)" font-size="27.3" text-anchor="start">0</text>
<line x1="1964.4" y1="973.63" x2="1971.1" y2="973.63" stroke="#000" stroke-width="1.8"/>
<text transform="translate(1972,983.43)" font-size="27.3" text-anchor="start">1</text>
<line x1="1964.4" y1="936.89" x2="1971.1" y2="936.89" stroke="#000" stroke-width="1.8"/>
<text transform="translate(1972,946.69)" font-size="27.3" text-anchor="start">2</text>
<line x1="1964.4" y1="900.14" x2="1971.1" y2="900.14" stroke="#000" stroke-width="1.8"/>
<text transform="translate(1972,909.94)" font-size="27.3" text-anchor="start">4</text>
<line x1="1964.4" y1="863.4" x2="1971.1" y2="863.4" stroke="#000" stroke-width="1.8"/>
<text transform="translate(1972,873.2)" font-size="27.3" text-anchor="start">6</text>
<line x1="1964.4" y1="826.65" x2="1971.1" y2="826.65" stroke="#000" stroke-width="1.8"/>
<text transform="translate(1972,836.45)" font-size="27.3" text-anchor="start">8</text>
<line x1="1964.4" y1="789.9" x2="1971.1" y2="789.9" stroke="#000" stroke-width="1.8"/>
<text transform="translate(1972,799.7)" font-size="27.3" text-anchor="start">10</text>
<line x1="1964.4" y1="753.16" x2="1971.1" y2="753.16" stroke="#000" stroke-width="1.8"/>
<text transform="translate(1972,762.96)" font-size="27.3" text-anchor="start">15</text>
<line x1="1964.4" y1="716.41" x2="1971.1" y2="716.41" stroke="#000" stroke-width="1.8"/>
<text transform="translate(1972,726.21)" font-size="27.3" text-anchor="start">20</text>
<line x1="1964.4" y1="679.67" x2="1971.1" y2="679.67" stroke="#000" stroke-width="1.8"/>
<text transform="translate(1972,689.47)" font-size="27.3" text-anchor="start">25</text>
<line x1="1964.4" y1="642.92" x2="1971.1" y2="642.92" stroke="#000" stroke-width="1.8"/>
<text transform="translate(1972,652.72)" font-size="27.3" text-anchor="start">30</text>
<text transform="translate(25,246.25) rotate(-90)" font-size="29.3" text-anchor="middle" font-weight="bold">Before March 2021</text>
<text transform="translate(62.9,244.45) rotate(-90)" font-size="29.3" text-anchor="middle" font-weight="bold">school closed</text>
<text transform="translate(25,828.45) rotate(-90)" font-size="29.3" text-anchor="middle" font-weight="bold">After March 2021</text>
<text transform="translate(62.9,826.65) rotate(-90)" font-size="29.3" text-anchor="middle" font-weight="bold">school open</text>
<text transform="translate(2.9,48.8) scale(0.96,1.04)" font-size="49" text-anchor="start" font-weight="bold">A</text>
<text transform="translate(1.2,630.9) scale(0.96,1.04)" font-size="49" text-anchor="start" font-weight="bold">B</text>
<text transform="translate(2.2,1232.5) scale(0.96,1.04)" font-size="49" text-anchor="start" font-weight="bold">C</text>
<line x1="159.5" y1="1609.5" x2="159.5" y2="1228.3" stroke="#000" stroke-width="1.8" stroke-linecap="square"/>
<line x1="152.5" y1="1609.5" x2="159.5" y2="1609.5" stroke="#000" stroke-width="1.8"/>
<text transform="translate(149.3,1619.1)" font-size="25.3" text-anchor="end">0</text>
<line x1="152.5" y1="1514.2" x2="159.5" y2="1514.2" stroke="#000" stroke-width="1.8"/>
<text transform="translate(149.3,1523.8)" font-size="25.3" text-anchor="end">25</text>
<line x1="152.5" y1="1418.9" x2="159.5" y2="1418.9" stroke="#000" stroke-width="1.8"/>
<text transform="translate(149.3,1428.5)" font-size="25.3" text-anchor="end">50</text>
<line x1="152.5" y1="1323.6" x2="159.5" y2="1323.6" stroke="#000" stroke-width="1.8"/>
<text transform="translate(149.3,1333.2)" font-size="25.3" text-anchor="end">75</text>
<line x1="152.5" y1="1228.3" x2="159.5" y2="1228.3" stroke="#000" stroke-width="1.8"/>
<text transform="translate(149.3,1237.9)" font-size="25.3" text-anchor="end">100</text>
<text transform="translate(98.8,1418.9) rotate(-90)" font-size="26.9" text-anchor="middle">Percentage of individuals</text>
<rect x="185.1" y="1228.3" width="135.6" height="22.87" fill="#6B717B"/>
<rect x="185.1" y="1251.17" width="135.6" height="89.96" fill="#ADB2BA"/>
<rect x="185.1" y="1341.14" width="135.6" height="268.36" fill="#DEE0E4"/>
<rect x="330.2" y="1228.3" width="135.6" height="28.97" fill="#6B717B"/>
<rect x="330.2" y="1257.27" width="135.6" height="85.77" fill="#ADB2BA"/>
<rect x="330.2" y="1343.04" width="135.6" height="266.46" fill="#DEE0E4"/>
<rect x="476" y="1228.3" width="135.6" height="33.55" fill="#6B717B"/>
<rect x="476" y="1261.85" width="135.6" height="72.81" fill="#ADB2BA"/>
<rect x="476" y="1334.65" width="135.6" height="274.85" fill="#DEE0E4"/>
<line x1="252.9" y1="1624.9" x2="543.8" y2="1624.9" stroke="#000" stroke-width="1.8" stroke-linecap="square"/>
<line x1="252.9" y1="1624.9" x2="252.9" y2="1631.7" stroke="#000" stroke-width="1.8"/>
<text transform="translate(249.6,1669) rotate(-49.5)" font-size="25.3" text-anchor="middle">urban</text>
<line x1="398" y1="1624.9" x2="398" y2="1631.7" stroke="#000" stroke-width="1.8"/>
<text transform="translate(394.7,1669) rotate(-49.5)" font-size="25.3" text-anchor="middle">rural</text>
<line x1="543.8" y1="1624.9" x2="543.8" y2="1631.7" stroke="#000" stroke-width="1.8"/>
<text transform="translate(540.5,1669) rotate(-49.5)" font-size="25.3" text-anchor="middle">remote</text>
<rect x="622.2" y="1236.6" width="14.7" height="14.3" fill="#DEE0E4"/>
<text transform="translate(640.8,1252.8)" font-size="25.9" text-anchor="start">0–29</text>
<rect x="622.2" y="1267.4" width="14.7" height="14.3" fill="#ADB2BA"/>
<text transform="translate(640.8,1283.6)" font-size="25.9" text-anchor="start">30–49</text>
<rect x="622.2" y="1298.2" width="14.7" height="14.3" fill="#6B717B"/>
<text transform="translate(640.8,1314.4)" font-size="25.9" text-anchor="start">50+</text>
<text transform="translate(439.4,1208.9) scale(1,0.97)" font-size="32.2" text-anchor="middle" font-weight="bold">Age structure</text>
<line x1="807" y1="1609.5" x2="807" y2="1228.3" stroke="#000" stroke-width="1.8" stroke-linecap="square"/>
<line x1="800" y1="1609.5" x2="807" y2="1609.5" stroke="#000" stroke-width="1.8"/>
<text transform="translate(796.8,1619.1)" font-size="25.3" text-anchor="end">0</text>
<line x1="800" y1="1514.2" x2="807" y2="1514.2" stroke="#000" stroke-width="1.8"/>
<text transform="translate(796.8,1523.8)" font-size="25.3" text-anchor="end">25</text>
<line x1="800" y1="1418.9" x2="807" y2="1418.9" stroke="#000" stroke-width="1.8"/>
<text transform="translate(796.8,1428.5)" font-size="25.3" text-anchor="end">50</text>
<line x1="800" y1="1323.6" x2="807" y2="1323.6" stroke="#000" stroke-width="1.8"/>
<text transform="translate(796.8,1333.2)" font-size="25.3" text-anchor="end">75</text>
<line x1="800" y1="1228.3" x2="807" y2="1228.3" stroke="#000" stroke-width="1.8"/>
<text transform="translate(796.8,1237.9)" font-size="25.3" text-anchor="end">100</text>
<text transform="translate(746,1418.9) rotate(-90)" font-size="26.9" text-anchor="middle">Percentage of caused infections</text>
<rect x="829.3" y="1228.3" width="66.2" height="28.97" fill="#5E103E"/>
<rect x="829.3" y="1257.27" width="66.2" height="128.46" fill="#DEA9B2"/>
<rect x="829.3" y="1385.74" width="66.2" height="223.76" fill="#E8C8CF"/>
<rect x="900" y="1228.3" width="66.2" height="45.36" fill="#5E103E"/>
<rect x="900" y="1273.66" width="66.2" height="135.71" fill="#DEA9B2"/>
<rect x="900" y="1409.37" width="66.2" height="200.13" fill="#E8C8CF"/>
<rect x="970.8" y="1228.3" width="66.2" height="94.16" fill="#5E103E"/>
<rect x="970.8" y="1322.46" width="66.2" height="111.31" fill="#DEA9B2"/>
<rect x="970.8" y="1433.77" width="66.2" height="175.73" fill="#E8C8CF"/>
<rect x="1053.2" y="1228.3" width="66.2" height="7.62" fill="#5E103E"/>
<rect x="1053.2" y="1235.92" width="66.2" height="42.31" fill="#DEA9B2"/>
<rect x="1053.2" y="1278.24" width="66.2" height="331.26" fill="#E8C8CF"/>
<rect x="1124" y="1228.3" width="66.2" height="13.72" fill="#5E103E"/>
<rect x="1124" y="1242.02" width="66.2" height="44.98" fill="#DEA9B2"/>
<rect x="1124" y="1287" width="66.2" height="322.5" fill="#E8C8CF"/>
<rect x="1194.8" y="1228.3" width="66.2" height="11.82" fill="#5E103E"/>
<rect x="1194.8" y="1240.12" width="66.2" height="36.21" fill="#DEA9B2"/>
<rect x="1194.8" y="1276.33" width="66.2" height="333.17" fill="#E8C8CF"/>
<polyline points="821.2,1707.2 821.2,1624.9 1269,1624.9 1269,1707.2" fill="none" stroke="#000" stroke-width="1.8" stroke-linejoin="miter" stroke-linecap="square"/>
<line x1="1045.2" y1="1624.9" x2="1045.2" y2="1707.2" stroke="#000" stroke-width="1.8"/>
<line x1="862.4" y1="1624.9" x2="862.4" y2="1631.8" stroke="#000" stroke-width="1.8"/>
<text transform="translate(864.3,1669) rotate(-49.5)" font-size="25.3" text-anchor="middle">urban</text>
<line x1="933.1" y1="1624.9" x2="933.1" y2="1631.8" stroke="#000" stroke-width="1.8"/>
<text transform="translate(935,1669) rotate(-49.5)" font-size="25.3" text-anchor="middle">rural</text>
<line x1="1003.9" y1="1624.9" x2="1003.9" y2="1631.8" stroke="#000" stroke-width="1.8"/>
<text transform="translate(1005.8,1669) rotate(-49.5)" font-size="25.3" text-anchor="middle">remote</text>
<line x1="1086.3" y1="1624.9" x2="1086.3" y2="1631.8" stroke="#000" stroke-width="1.8"/>
<text transform="translate(1088.2,1669) rotate(-49.5)" font-size="25.3" text-anchor="middle">urban</text>
<line x1="1157.1" y1="1624.9" x2="1157.1" y2="1631.8" stroke="#000" stroke-width="1.8"/>
<text transform="translate(1159,1669) rotate(-49.5)" font-size="25.3" text-anchor="middle">rural</text>
<line x1="1227.9" y1="1624.9" x2="1227.9" y2="1631.8" stroke="#000" stroke-width="1.8"/>
<text transform="translate(1229.8,1669) rotate(-49.5)" font-size="25.3" text-anchor="middle">remote</text>
<text transform="translate(933.2,1725.9)" font-size="25.3" text-anchor="middle">Before March 2021</text>
<text transform="translate(933.2,1755.8)" font-size="25.3" text-anchor="middle">school closed</text>
<text transform="translate(1157.1,1725.9)" font-size="25.3" text-anchor="middle">After March 2021</text>
<text transform="translate(1157.1,1755.8)" font-size="25.3" text-anchor="middle">school open</text>
<rect x="1271.8" y="1236.6" width="14.7" height="14.3" fill="#E8C8CF"/>
<text transform="translate(1290.4,1252.8)" font-size="25.9" text-anchor="start">0–29</text>
<rect x="1271.8" y="1267.4" width="14.7" height="14.3" fill="#DEA9B2"/>
<text transform="translate(1290.4,1283.6)" font-size="25.9" text-anchor="start">30–49</text>
<rect x="1271.8" y="1298.2" width="14.7" height="14.3" fill="#5E103E"/>
<text transform="translate(1290.4,1314.4)" font-size="25.9" text-anchor="start">50+</text>
<text transform="translate(1086.2,1208.9) scale(1,0.97)" font-size="32.2" text-anchor="middle" font-weight="bold">Infections</text>
<line x1="1454" y1="1609.5" x2="1454" y2="1228.3" stroke="#000" stroke-width="1.8" stroke-linecap="square"/>
<line x1="1447" y1="1609.5" x2="1454" y2="1609.5" stroke="#000" stroke-width="1.8"/>
<text transform="translate(1443.8,1619.1)" font-size="25.3" text-anchor="end">0</text>
<line x1="1447" y1="1514.2" x2="1454" y2="1514.2" stroke="#000" stroke-width="1.8"/>
<text transform="translate(1443.8,1523.8)" font-size="25.3" text-anchor="end">25</text>
<line x1="1447" y1="1418.9" x2="1454" y2="1418.9" stroke="#000" stroke-width="1.8"/>
<text transform="translate(1443.8,1428.5)" font-size="25.3" text-anchor="end">50</text>
<line x1="1447" y1="1323.6" x2="1454" y2="1323.6" stroke="#000" stroke-width="1.8"/>
<text transform="translate(1443.8,1333.2)" font-size="25.3" text-anchor="end">75</text>
<line x1="1447" y1="1228.3" x2="1454" y2="1228.3" stroke="#000" stroke-width="1.8"/>
<text transform="translate(1443.8,1237.9)" font-size="25.3" text-anchor="end">100</text>
<text transform="translate(1393,1418.9) rotate(-90)" font-size="26.9" text-anchor="middle">Percentage of caused critical cases</text>
<rect x="1476.3" y="1228.3" width="66.2" height="60.99" fill="#281517"/>
<rect x="1476.3" y="1289.29" width="66.2" height="137.23" fill="#7E4D61"/>
<rect x="1476.3" y="1426.52" width="66.2" height="182.98" fill="#B087A3"/>
<rect x="1547" y="1228.3" width="66.2" height="71.67" fill="#281517"/>
<rect x="1547" y="1299.97" width="66.2" height="140.28" fill="#7E4D61"/>
<rect x="1547" y="1440.25" width="66.2" height="169.25" fill="#B087A3"/>
<rect x="1617.8" y="1228.3" width="66.2" height="194.03" fill="#281517"/>
<rect x="1617.8" y="1422.33" width="66.2" height="92.25" fill="#7E4D61"/>
<rect x="1617.8" y="1514.58" width="66.2" height="94.92" fill="#B087A3"/>
<rect x="1700.2" y="1228.3" width="66.2" height="27.45" fill="#281517"/>
<rect x="1700.2" y="1255.75" width="66.2" height="84.25" fill="#7E4D61"/>
<rect x="1700.2" y="1339.99" width="66.2" height="269.51" fill="#B087A3"/>
<rect x="1771" y="1228.3" width="66.2" height="38.12" fill="#281517"/>
<rect x="1771" y="1266.42" width="66.2" height="82.72" fill="#7E4D61"/>
<rect x="1771" y="1349.14" width="66.2" height="260.36" fill="#B087A3"/>
<rect x="1841.8" y="1228.3" width="66.2" height="51.46" fill="#281517"/>
<rect x="1841.8" y="1279.76" width="66.2" height="75.48" fill="#7E4D61"/>
<rect x="1841.8" y="1355.24" width="66.2" height="254.26" fill="#B087A3"/>
<polyline points="1468.2,1707.2 1468.2,1624.9 1916,1624.9 1916,1707.2" fill="none" stroke="#000" stroke-width="1.8" stroke-linejoin="miter" stroke-linecap="square"/>
<line x1="1692.2" y1="1624.9" x2="1692.2" y2="1707.2" stroke="#000" stroke-width="1.8"/>
<line x1="1509.4" y1="1624.9" x2="1509.4" y2="1631.8" stroke="#000" stroke-width="1.8"/>
<text transform="translate(1511.3,1669) rotate(-49.5)" font-size="25.3" text-anchor="middle">urban</text>
<line x1="1580.1" y1="1624.9" x2="1580.1" y2="1631.8" stroke="#000" stroke-width="1.8"/>
<text transform="translate(1582,1669) rotate(-49.5)" font-size="25.3" text-anchor="middle">rural</text>
<line x1="1650.9" y1="1624.9" x2="1650.9" y2="1631.8" stroke="#000" stroke-width="1.8"/>
<text transform="translate(1652.8,1669) rotate(-49.5)" font-size="25.3" text-anchor="middle">remote</text>
<line x1="1733.3" y1="1624.9" x2="1733.3" y2="1631.8" stroke="#000" stroke-width="1.8"/>
<text transform="translate(1735.2,1669) rotate(-49.5)" font-size="25.3" text-anchor="middle">urban</text>
<line x1="1804.1" y1="1624.9" x2="1804.1" y2="1631.8" stroke="#000" stroke-width="1.8"/>
<text transform="translate(1806,1669) rotate(-49.5)" font-size="25.3" text-anchor="middle">rural</text>
<line x1="1874.9" y1="1624.9" x2="1874.9" y2="1631.8" stroke="#000" stroke-width="1.8"/>
<text transform="translate(1876.8,1669) rotate(-49.5)" font-size="25.3" text-anchor="middle">remote</text>
<text transform="translate(1580.2,1725.9)" font-size="25.3" text-anchor="middle">Before March 2021</text>
<text transform="translate(1580.2,1755.8)" font-size="25.3" text-anchor="middle">school closed</text>
<text transform="translate(1804.1,1725.9)" font-size="25.3" text-anchor="middle">After March 2021</text>
<text transform="translate(1804.1,1755.8)" font-size="25.3" text-anchor="middle">school open</text>
<rect x="1918.8" y="1236.6" width="14.7" height="14.3" fill="#B087A3"/>
<text transform="translate(1937.4,1252.8)" font-size="25.9" text-anchor="start">0–29</text>
<rect x="1918.8" y="1267.4" width="14.7" height="14.3" fill="#7E4D61"/>
<text transform="translate(1937.4,1283.6)" font-size="25.9" text-anchor="start">30–49</text>
<rect x="1918.8" y="1298.2" width="14.7" height="14.3" fill="#281517"/>
<text transform="translate(1937.4,1314.4)" font-size="25.9" text-anchor="start">50+</text>
<text transform="translate(1733.2,1208.9) scale(1,0.97)" font-size="32.2" text-anchor="middle" font-weight="bold">Critical cases</text>
</svg></body></html>
